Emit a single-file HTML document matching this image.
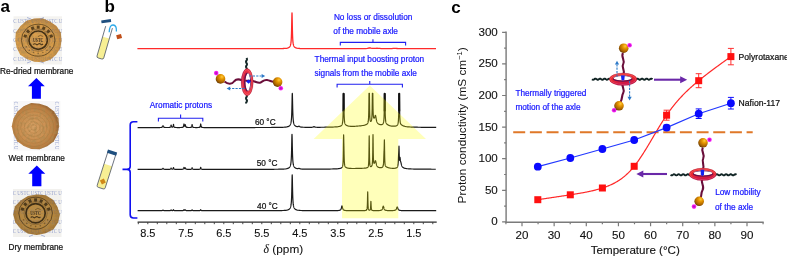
<!DOCTYPE html><html><head><meta charset="utf-8"><style>html,body{margin:0;padding:0;background:#fff;overflow:hidden}svg{display:block;will-change:transform}</style></head><body>
<svg width="787" height="257" viewBox="0 0 787 257">
<defs>
<radialGradient id="disc1" cx="45%" cy="55%" r="55%">
<stop offset="0" stop-color="#d89030"/><stop offset="0.8" stop-color="#ce8828"/><stop offset="1" stop-color="#b27020"/></radialGradient>
<radialGradient id="disc2" cx="45%" cy="52%" r="52%">
<stop offset="0" stop-color="#d6a064"/><stop offset="0.6" stop-color="#c98e50"/><stop offset="0.9" stop-color="#b87c40"/><stop offset="1" stop-color="#9c6836"/></radialGradient>
<radialGradient id="disc3" cx="50%" cy="50%" r="52%">
<stop offset="0" stop-color="#ba8430"/><stop offset="0.7" stop-color="#ac7624"/><stop offset="1" stop-color="#8e5c18"/></radialGradient>
<radialGradient id="gold" cx="62%" cy="32%" r="75%" fx="65%" fy="28%">
<stop offset="0" stop-color="#ffcc40"/><stop offset="0.3" stop-color="#e89800"/><stop offset="0.72" stop-color="#a86200"/><stop offset="1" stop-color="#5a3200"/></radialGradient>
<radialGradient id="mag" cx="50%" cy="50%" r="50%">
<stop offset="0" stop-color="#9a20a0"/><stop offset="0.5" stop-color="#e010e0"/><stop offset="1" stop-color="#ff30ff"/></radialGradient>
<linearGradient id="ringv" x1="0" y1="0" x2="1" y2="0.25">
<stop offset="0" stop-color="#b8104a"/><stop offset="0.35" stop-color="#e62a40"/><stop offset="0.7" stop-color="#f23c48"/><stop offset="1" stop-color="#e02a3a"/></linearGradient>
<linearGradient id="ringh" x1="0" y1="0" x2="0.2" y2="1">
<stop offset="0" stop-color="#f23232"/><stop offset="0.55" stop-color="#ec2a30"/><stop offset="1" stop-color="#c8104c"/></linearGradient>
<filter id="tex" x="0" y="0" width="100%" height="100%">
<feTurbulence type="fractalNoise" baseFrequency="0.35" numOctaves="2" seed="4" result="n"/>
<feColorMatrix in="n" type="matrix" values="0 0 0 0 0.40  0 0 0 0 0.25  0 0 0 0 0.08  3.2 0 0 0 -1.25" result="c"/>
<feComposite in="c" in2="SourceGraphic" operator="in"/>
</filter>
</defs>
<text x="0.50" y="12.20" font-family='"Liberation Sans", sans-serif' font-size="17.00" fill="#000" text-anchor="start" font-weight="bold" stroke="#000" stroke-width="0.00" >a</text>
<rect x="13.5" y="16.3" width="48.5" height="48.2" fill="#f4f3f0"/>
<text x="13.20" y="23.40" font-family='"Liberation Serif", serif' font-size="6.80" fill="#7d8cc4" opacity="0.80" textLength="49.1" lengthAdjust="spacingAndGlyphs">C USTC USTC USTC U</text>
<text x="13.20" y="32.60" font-family='"Liberation Serif", serif' font-size="6.80" fill="#7d8cc4" opacity="0.80" textLength="49.1" lengthAdjust="spacingAndGlyphs">C USTC USTC USTC U</text>
<text x="13.20" y="42.00" font-family='"Liberation Serif", serif' font-size="6.80" fill="#7d8cc4" opacity="0.80" textLength="49.1" lengthAdjust="spacingAndGlyphs">C USTC USTC USTC U</text>
<text x="13.20" y="51.30" font-family='"Liberation Serif", serif' font-size="6.80" fill="#7d8cc4" opacity="0.80" textLength="49.1" lengthAdjust="spacingAndGlyphs">C USTC USTC USTC U</text>
<text x="13.20" y="60.60" font-family='"Liberation Serif", serif' font-size="6.80" fill="#7d8cc4" opacity="0.80" textLength="49.1" lengthAdjust="spacingAndGlyphs">C USTC USTC USTC U</text>
<path d="M61.49,40.30 L60.44,47.91 L56.21,54.48 L50.16,59.63 L42.49,62.30 L34.42,61.69 L26.98,59.06 L20.17,54.81 L16.68,47.80 L15.31,40.30 L15.87,32.52 L20.50,26.05 L26.50,20.75 L34.34,18.46 L42.49,18.29 L49.90,21.41 L56.45,25.93 L60.79,32.57 Z" fill="url(#disc1)" opacity="0.84"/>
<path d="M61.49,40.30 L60.44,47.91 L56.21,54.48 L50.16,59.63 L42.49,62.30 L34.42,61.69 L26.98,59.06 L20.17,54.81 L16.68,47.80 L15.31,40.30 L15.87,32.52 L20.50,26.05 L26.50,20.75 L34.34,18.46 L42.49,18.29 L49.90,21.41 L56.45,25.93 L60.79,32.57 Z" fill="#000" filter="url(#tex)" opacity="0.55"/>
<clipPath id="cd1"><path d="M61.49,40.30 L60.44,47.91 L56.21,54.48 L50.16,59.63 L42.49,62.30 L34.42,61.69 L26.98,59.06 L20.17,54.81 L16.68,47.80 L15.31,40.30 L15.87,32.52 L20.50,26.05 L26.50,20.75 L34.34,18.46 L42.49,18.29 L49.90,21.41 L56.45,25.93 L60.79,32.57 Z"/></clipPath><g clip-path="url(#cd1)" opacity="0.35">
<text x="13.20" y="23.40" font-family='"Liberation Serif", serif' font-size="6.80" fill="#6a70a0" opacity="0.80" textLength="49.1" lengthAdjust="spacingAndGlyphs">C USTC USTC USTC U</text>
<text x="13.20" y="32.60" font-family='"Liberation Serif", serif' font-size="6.80" fill="#6a70a0" opacity="0.80" textLength="49.1" lengthAdjust="spacingAndGlyphs">C USTC USTC USTC U</text>
<text x="13.20" y="42.00" font-family='"Liberation Serif", serif' font-size="6.80" fill="#6a70a0" opacity="0.80" textLength="49.1" lengthAdjust="spacingAndGlyphs">C USTC USTC USTC U</text>
<text x="13.20" y="51.30" font-family='"Liberation Serif", serif' font-size="6.80" fill="#6a70a0" opacity="0.80" textLength="49.1" lengthAdjust="spacingAndGlyphs">C USTC USTC USTC U</text>
<text x="13.20" y="60.60" font-family='"Liberation Serif", serif' font-size="6.80" fill="#6a70a0" opacity="0.80" textLength="49.1" lengthAdjust="spacingAndGlyphs">C USTC USTC USTC U</text>
</g>
<g opacity="1.00">
<ellipse cx="38.20" cy="40.20" rx="16.80" ry="16.00" fill="none" stroke="#2e200c" stroke-width="0.9" opacity="0.65"/>
<rect x="23.79" y="34.60" width="2.9" height="3.1" fill="#2e200c" opacity="0.72" transform="rotate(288.0 25.24 36.15)"/>
<rect x="26.63" y="29.88" width="2.9" height="3.1" fill="#2e200c" opacity="0.72" transform="rotate(312.0 28.08 31.43)"/>
<rect x="31.21" y="26.68" width="2.9" height="3.1" fill="#2e200c" opacity="0.72" transform="rotate(336.0 32.66 28.23)"/>
<rect x="36.75" y="25.55" width="2.9" height="3.1" fill="#2e200c" opacity="0.72" transform="rotate(360.0 38.20 27.10)"/>
<rect x="42.29" y="26.68" width="2.9" height="3.1" fill="#2e200c" opacity="0.72" transform="rotate(384.0 43.74 28.23)"/>
<rect x="46.87" y="29.88" width="2.9" height="3.1" fill="#2e200c" opacity="0.72" transform="rotate(408.0 48.32 31.43)"/>
<rect x="49.71" y="34.60" width="2.9" height="3.1" fill="#2e200c" opacity="0.72" transform="rotate(432.0 51.16 36.15)"/>
<circle cx="50.00" cy="46.75" r="0.8" fill="#2e200c" opacity="0.4"/>
<circle cx="46.96" cy="50.24" r="0.8" fill="#2e200c" opacity="0.4"/>
<circle cx="42.86" cy="52.51" r="0.8" fill="#2e200c" opacity="0.4"/>
<circle cx="38.20" cy="53.30" r="0.8" fill="#2e200c" opacity="0.4"/>
<circle cx="33.54" cy="52.51" r="0.8" fill="#2e200c" opacity="0.4"/>
<circle cx="29.44" cy="50.24" r="0.8" fill="#2e200c" opacity="0.4"/>
<circle cx="26.40" cy="46.75" r="0.8" fill="#2e200c" opacity="0.4"/>
<circle cx="38.20" cy="40.20" r="9.20" fill="none" stroke="#2e200c" stroke-width="1.7" opacity="0.85"/>
<circle cx="38.20" cy="40.20" r="11.20" fill="none" stroke="#2e200c" stroke-width="0.6" opacity="0.45"/>
<text x="38.20" y="41.80" font-family='"Liberation Serif", serif' font-weight="bold" font-size="5.2" fill="#2e200c" opacity="0.8" text-anchor="middle" textLength="10.5" lengthAdjust="spacingAndGlyphs">USTC</text>
<path d="M33.40,44.60 q1.2,-1.6 2.4,-0.4 q1.2,1.2 2.4,0 q1.2,-1.2 2.4,0 q1.2,1.2 2.4,-0.4" fill="none" stroke="#2e200c" stroke-width="1.1" opacity="0.8"/>
<path d="M37.70,36.80 q2.5,-2.6 5.5,-0.3" fill="none" stroke="#2e200c" stroke-width="0.7" opacity="0.6"/>
</g>
<path d="M27,17.5 l4,1.5 M44,17.5 l-4,1.5 M27,63 l4,-1.5 M44,63 l-4,-1.5" stroke="#8090c8" stroke-width="0.8" opacity="0.8"/>
<rect x="13.2" y="101" width="47.2" height="49.5" fill="#f7f7f8"/>
<text transform="translate(13.80,101.5) rotate(90)" font-family='"Liberation Serif", serif' font-size="6.4" fill="#7d8cc4" opacity="0.8" textLength="48" lengthAdjust="spacingAndGlyphs">C USTC USTC USTC U</text>
<text transform="translate(55.30,101.5) rotate(90)" font-family='"Liberation Serif", serif' font-size="6.4" fill="#7d8cc4" opacity="0.8" textLength="48" lengthAdjust="spacingAndGlyphs">C USTC USTC USTC U</text>
<path d="M59.13,126.30 L57.55,134.16 L53.84,141.37 L47.20,146.13 L39.64,149.28 L31.39,149.12 L23.81,146.12 L17.26,141.28 L13.55,134.12 L11.76,126.30 L13.52,118.47 L17.57,111.57 L23.64,106.18 L31.31,103.05 L39.57,103.70 L47.27,106.34 L53.82,111.25 L58.27,118.19 Z" fill="url(#disc2)"/>
<path d="M59.13,126.30 L57.55,134.16 L53.84,141.37 L47.20,146.13 L39.64,149.28 L31.39,149.12 L23.81,146.12 L17.26,141.28 L13.55,134.12 L11.76,126.30 L13.52,118.47 L17.57,111.57 L23.64,106.18 L31.31,103.05 L39.57,103.70 L47.27,106.34 L53.82,111.25 L58.27,118.19 Z" fill="#000" filter="url(#tex)" opacity="0.55"/>
<ellipse cx="33.8" cy="127.5" rx="3.0" ry="2.8" fill="none" stroke="#9c6a30" stroke-width="0.9" opacity="0.3"/>
<ellipse cx="33.8" cy="127.5" rx="6.0" ry="5.7" fill="none" stroke="#9c6a30" stroke-width="0.9" opacity="0.3"/>
<ellipse cx="33.8" cy="127.5" rx="9.5" ry="9.0" fill="none" stroke="#9c6a30" stroke-width="0.9" opacity="0.3"/>
<ellipse cx="33.8" cy="127.5" rx="13.0" ry="12.3" fill="none" stroke="#9c6a30" stroke-width="0.9" opacity="0.3"/>
<ellipse cx="33.8" cy="127.5" rx="16.5" ry="15.7" fill="none" stroke="#9c6a30" stroke-width="0.9" opacity="0.3"/>
<ellipse cx="33.8" cy="127.5" rx="20.0" ry="19.0" fill="none" stroke="#9c6a30" stroke-width="0.9" opacity="0.3"/>
<rect x="13" y="189" width="48.5" height="48" fill="#f2f1ee"/>
<text x="12.70" y="195.40" font-family='"Liberation Serif", serif' font-size="6.80" fill="#7d8cc4" opacity="0.80" textLength="49.1" lengthAdjust="spacingAndGlyphs">C USTC USTC USTC U</text>
<text x="12.70" y="204.40" font-family='"Liberation Serif", serif' font-size="6.80" fill="#7d8cc4" opacity="0.80" textLength="49.1" lengthAdjust="spacingAndGlyphs">C USTC USTC USTC U</text>
<text x="12.70" y="213.90" font-family='"Liberation Serif", serif' font-size="6.80" fill="#7d8cc4" opacity="0.80" textLength="49.1" lengthAdjust="spacingAndGlyphs">C USTC USTC USTC U</text>
<text x="12.70" y="223.50" font-family='"Liberation Serif", serif' font-size="6.80" fill="#7d8cc4" opacity="0.80" textLength="49.1" lengthAdjust="spacingAndGlyphs">C USTC USTC USTC U</text>
<text x="12.70" y="233.20" font-family='"Liberation Serif", serif' font-size="6.80" fill="#7d8cc4" opacity="0.80" textLength="49.1" lengthAdjust="spacingAndGlyphs">C USTC USTC USTC U</text>
<path d="M59.83,214.50 L58.21,222.33 L53.52,229.29 L45.56,233.31 L36.70,234.91 L27.78,233.45 L20.61,228.65 L15.25,222.31 L13.32,214.50 L14.89,206.56 L20.69,200.43 L27.93,195.88 L36.70,194.60 L45.74,195.30 L53.30,199.91 L57.54,206.91 Z" fill="url(#disc3)" opacity="0.88"/>
<path d="M59.83,214.50 L58.21,222.33 L53.52,229.29 L45.56,233.31 L36.70,234.91 L27.78,233.45 L20.61,228.65 L15.25,222.31 L13.32,214.50 L14.89,206.56 L20.69,200.43 L27.93,195.88 L36.70,194.60 L45.74,195.30 L53.30,199.91 L57.54,206.91 Z" fill="#000" filter="url(#tex)" opacity="0.55"/>
<clipPath id="cd3"><path d="M59.83,214.50 L58.21,222.33 L53.52,229.29 L45.56,233.31 L36.70,234.91 L27.78,233.45 L20.61,228.65 L15.25,222.31 L13.32,214.50 L14.89,206.56 L20.69,200.43 L27.93,195.88 L36.70,194.60 L45.74,195.30 L53.30,199.91 L57.54,206.91 Z"/></clipPath><g clip-path="url(#cd3)" opacity="0.35">
<text x="12.70" y="195.40" font-family='"Liberation Serif", serif' font-size="6.80" fill="#6a70a0" opacity="0.80" textLength="49.1" lengthAdjust="spacingAndGlyphs">C USTC USTC USTC U</text>
<text x="12.70" y="204.40" font-family='"Liberation Serif", serif' font-size="6.80" fill="#6a70a0" opacity="0.80" textLength="49.1" lengthAdjust="spacingAndGlyphs">C USTC USTC USTC U</text>
<text x="12.70" y="213.90" font-family='"Liberation Serif", serif' font-size="6.80" fill="#6a70a0" opacity="0.80" textLength="49.1" lengthAdjust="spacingAndGlyphs">C USTC USTC USTC U</text>
<text x="12.70" y="223.50" font-family='"Liberation Serif", serif' font-size="6.80" fill="#6a70a0" opacity="0.80" textLength="49.1" lengthAdjust="spacingAndGlyphs">C USTC USTC USTC U</text>
<text x="12.70" y="233.20" font-family='"Liberation Serif", serif' font-size="6.80" fill="#6a70a0" opacity="0.80" textLength="49.1" lengthAdjust="spacingAndGlyphs">C USTC USTC USTC U</text>
</g>
<g opacity="1.00">
<ellipse cx="35.60" cy="213.20" rx="16.80" ry="16.00" fill="none" stroke="#2a1e0c" stroke-width="0.9" opacity="0.65"/>
<rect x="20.99" y="207.54" width="2.9" height="3.1" fill="#2a1e0c" opacity="0.72" transform="rotate(288.0 22.44 209.09)"/>
<rect x="23.87" y="202.75" width="2.9" height="3.1" fill="#2a1e0c" opacity="0.72" transform="rotate(312.0 25.32 204.30)"/>
<rect x="28.52" y="199.50" width="2.9" height="3.1" fill="#2a1e0c" opacity="0.72" transform="rotate(336.0 29.97 201.05)"/>
<rect x="34.15" y="198.35" width="2.9" height="3.1" fill="#2a1e0c" opacity="0.72" transform="rotate(360.0 35.60 199.90)"/>
<rect x="39.78" y="199.50" width="2.9" height="3.1" fill="#2a1e0c" opacity="0.72" transform="rotate(384.0 41.23 201.05)"/>
<rect x="44.43" y="202.75" width="2.9" height="3.1" fill="#2a1e0c" opacity="0.72" transform="rotate(408.0 45.88 204.30)"/>
<rect x="47.31" y="207.54" width="2.9" height="3.1" fill="#2a1e0c" opacity="0.72" transform="rotate(432.0 48.76 209.09)"/>
<circle cx="47.58" cy="219.85" r="0.8" fill="#2a1e0c" opacity="0.4"/>
<circle cx="44.49" cy="223.39" r="0.8" fill="#2a1e0c" opacity="0.4"/>
<circle cx="40.33" cy="225.70" r="0.8" fill="#2a1e0c" opacity="0.4"/>
<circle cx="35.60" cy="226.50" r="0.8" fill="#2a1e0c" opacity="0.4"/>
<circle cx="30.87" cy="225.70" r="0.8" fill="#2a1e0c" opacity="0.4"/>
<circle cx="26.71" cy="223.39" r="0.8" fill="#2a1e0c" opacity="0.4"/>
<circle cx="23.62" cy="219.85" r="0.8" fill="#2a1e0c" opacity="0.4"/>
<circle cx="35.60" cy="213.20" r="9.60" fill="none" stroke="#2a1e0c" stroke-width="1.7" opacity="0.85"/>
<circle cx="35.60" cy="213.20" r="11.60" fill="none" stroke="#2a1e0c" stroke-width="0.6" opacity="0.45"/>
<text x="35.60" y="214.80" font-family='"Liberation Serif", serif' font-weight="bold" font-size="5.2" fill="#2a1e0c" opacity="0.8" text-anchor="middle" textLength="10.5" lengthAdjust="spacingAndGlyphs">USTC</text>
<path d="M30.80,217.60 q1.2,-1.6 2.4,-0.4 q1.2,1.2 2.4,0 q1.2,-1.2 2.4,0 q1.2,1.2 2.4,-0.4" fill="none" stroke="#2a1e0c" stroke-width="1.1" opacity="0.8"/>
<path d="M35.10,209.80 q2.5,-2.6 5.5,-0.3" fill="none" stroke="#2a1e0c" stroke-width="0.7" opacity="0.6"/>
</g>
<path d="M29,236.5 l4,-1.5 M45,236.5 l-4,-1.5" stroke="#8090c8" stroke-width="0.8" opacity="0.8"/>
<text x="0.00" y="74.20" font-family='"Liberation Sans", sans-serif' font-size="8.25" fill="#111" text-anchor="start" font-weight="normal" stroke="#111" stroke-width="0.22" >Re-dried membrane</text>
<text x="8.60" y="160.70" font-family='"Liberation Sans", sans-serif' font-size="8.25" fill="#111" text-anchor="start" font-weight="normal" stroke="#111" stroke-width="0.22" >Wet membrane</text>
<text x="8.60" y="249.90" font-family='"Liberation Sans", sans-serif' font-size="8.25" fill="#111" text-anchor="start" font-weight="normal" stroke="#111" stroke-width="0.22" >Dry membrane</text>
<path d="M36.40,78.10 L44.80,86.30 L40.90,86.30 L40.90,98.80 L31.90,98.80 L31.90,86.30 L28.00,86.30 Z" fill="#0000ff"/>
<path d="M36.80,165.60 L45.30,173.70 L41.40,173.70 L41.40,186.20 L32.20,186.20 L32.20,173.70 L28.30,173.70 Z" fill="#0000ff"/>
<text x="104.60" y="12.10" font-family='"Liberation Sans", sans-serif' font-size="17.00" fill="#000" text-anchor="start" font-weight="bold" stroke="#000" stroke-width="0.00" >b</text>
<path d="M137.4,48.70 L138.4,48.70 L139.4,48.70 L140.4,48.70 L141.4,48.70 L142.4,48.70 L143.4,48.70 L144.4,48.70 L145.4,48.70 L146.4,48.70 L147.4,48.70 L148.4,48.70 L149.4,48.70 L150.4,48.70 L151.4,48.70 L152.4,48.70 L153.4,48.70 L154.4,48.70 L155.4,48.70 L156.4,48.70 L157.4,48.70 L158.4,48.70 L159.4,48.70 L160.4,48.70 L161.4,48.70 L162.4,48.70 L163.4,48.70 L164.4,48.70 L165.4,48.70 L166.4,48.70 L167.4,48.70 L168.4,48.70 L169.4,48.70 L170.4,48.70 L171.4,48.70 L172.4,48.70 L173.4,48.70 L174.4,48.70 L175.4,48.70 L176.4,48.70 L177.4,48.70 L178.4,48.70 L179.4,48.70 L180.4,48.70 L181.4,48.70 L182.4,48.70 L183.4,48.70 L184.4,48.70 L185.4,48.70 L186.4,48.70 L187.4,48.70 L188.4,48.70 L189.4,48.70 L190.4,48.70 L191.4,48.70 L192.4,48.70 L193.4,48.70 L194.4,48.70 L195.4,48.70 L196.4,48.70 L197.4,48.70 L198.4,48.70 L199.4,48.70 L200.4,48.70 L201.4,48.70 L202.4,48.70 L203.4,48.70 L204.4,48.70 L205.4,48.70 L206.4,48.70 L207.4,48.70 L208.4,48.70 L209.4,48.70 L210.4,48.70 L211.4,48.70 L212.4,48.70 L213.4,48.70 L214.4,48.70 L215.4,48.70 L216.4,48.70 L217.4,48.70 L218.4,48.70 L219.4,48.70 L220.4,48.70 L221.4,48.70 L222.4,48.70 L223.4,48.70 L224.4,48.70 L225.4,48.70 L226.4,48.70 L227.4,48.70 L228.4,48.70 L229.4,48.70 L230.4,48.70 L231.4,48.70 L232.4,48.70 L233.4,48.70 L234.4,48.70 L235.4,48.70 L236.4,48.70 L237.4,48.69 L238.4,48.69 L239.4,48.69 L240.4,48.69 L241.4,48.69 L242.4,48.69 L243.4,48.69 L244.4,48.69 L245.4,48.69 L246.4,48.69 L247.4,48.69 L248.4,48.69 L249.4,48.69 L250.4,48.69 L251.4,48.69 L252.4,48.69 L253.4,48.69 L254.4,48.69 L255.4,48.69 L256.4,48.69 L257.4,48.69 L258.4,48.69 L259.4,48.69 L260.4,48.69 L261.4,48.68 L262.4,48.68 L263.4,48.68 L264.4,48.68 L265.4,48.68 L266.4,48.68 L267.4,48.68 L268.4,48.67 L269.4,48.67 L270.4,48.67 L271.4,48.67 L272.4,48.66 L273.4,48.66 L274.4,48.65 L275.4,48.65 L276.4,48.64 L277.4,48.63 L278.4,48.62 L279.4,48.61 L280.4,48.60 L281.4,48.58 L282.4,48.55 L283.4,48.51 L284.4,48.46 L285.4,48.39 L286.4,48.28 L287.4,48.10 L287.5,48.07 L287.6,48.05 L287.7,48.02 L287.8,47.99 L287.9,47.96 L288.0,47.93 L288.1,47.89 L288.2,47.85 L288.3,47.81 L288.4,47.77 L288.5,47.72 L288.6,47.67 L288.7,47.62 L288.8,47.56 L288.9,47.50 L289.0,47.44 L289.1,47.36 L289.2,47.28 L289.3,47.20 L289.4,47.10 L289.5,47.00 L289.6,46.89 L289.7,46.77 L289.8,46.63 L289.9,46.48 L290.0,46.31 L290.1,46.12 L290.2,45.90 L290.3,45.66 L290.4,45.38 L290.5,45.06 L290.6,44.69 L290.7,44.25 L290.8,43.72 L290.9,43.09 L291.0,42.30 L291.1,41.33 L291.2,40.08 L291.3,38.47 L291.4,36.34 L291.5,33.52 L291.6,29.78 L291.7,25.04 L291.8,19.64 L291.9,14.88 L292.0,12.90 L292.1,14.88 L292.2,19.64 L292.3,25.04 L292.4,29.78 L292.5,33.52 L292.6,36.34 L292.7,38.47 L292.8,40.08 L292.9,41.33 L293.0,42.30 L293.1,43.09 L293.2,43.72 L293.3,44.25 L293.4,44.69 L293.5,45.06 L293.6,45.38 L293.7,45.66 L293.8,45.90 L293.9,46.12 L294.0,46.31 L294.1,46.48 L294.2,46.63 L294.3,46.77 L294.4,46.89 L294.5,47.00 L294.6,47.10 L294.7,47.20 L294.8,47.28 L294.9,47.36 L295.0,47.44 L295.1,47.50 L295.2,47.56 L295.3,47.62 L295.4,47.67 L295.5,47.72 L295.6,47.77 L295.7,47.81 L295.8,47.85 L295.9,47.89 L296.0,47.93 L296.1,47.96 L296.2,47.99 L296.3,48.02 L296.4,48.05 L296.5,48.07 L296.6,48.10 L296.7,48.12 L296.8,48.14 L296.9,48.16 L297.0,48.18 L298.0,48.33 L299.0,48.42 L300.0,48.49 L301.0,48.53 L302.0,48.56 L303.0,48.58 L304.0,48.60 L305.0,48.62 L306.0,48.63 L307.0,48.64 L308.0,48.64 L309.0,48.65 L310.0,48.65 L311.0,48.66 L312.0,48.66 L313.0,48.67 L314.0,48.67 L315.0,48.67 L316.0,48.67 L317.0,48.68 L318.0,48.68 L319.0,48.68 L320.0,48.68 L321.0,48.68 L322.0,48.68 L323.0,48.68 L324.0,48.68 L325.0,48.68 L326.0,48.68 L327.0,48.69 L328.0,48.69 L329.0,48.69 L330.0,48.69 L331.0,48.69 L332.0,48.69 L333.0,48.69 L334.0,48.69 L335.0,48.69 L336.0,48.69 L337.0,48.69 L338.0,48.69 L339.0,48.69 L340.0,48.69 L341.0,48.69 L342.0,48.69 L343.0,48.69 L344.0,48.69 L345.0,48.69 L346.0,48.69 L347.0,48.69 L348.0,48.69 L349.0,48.69 L350.0,48.68 L351.0,48.68 L352.0,48.68 L353.0,48.68 L354.0,48.68 L355.0,48.68 L356.0,48.68 L357.0,48.67 L358.0,48.67 L359.0,48.67 L360.0,48.66 L361.0,48.66 L362.0,48.65 L363.0,48.64 L364.0,48.62 L365.0,48.60 L366.0,48.55 L367.0,48.47 L368.0,48.30 L369.0,47.99 L370.0,47.86 L371.0,48.16 L372.0,48.35 L373.0,48.41 L374.0,48.41 L375.0,48.36 L376.0,48.29 L377.0,48.26 L378.0,48.30 L379.0,48.39 L380.0,48.47 L381.0,48.53 L382.0,48.57 L383.0,48.59 L384.0,48.61 L385.0,48.62 L386.0,48.62 L387.0,48.62 L388.0,48.62 L389.0,48.61 L390.0,48.59 L391.0,48.57 L392.0,48.53 L393.0,48.47 L394.0,48.41 L395.0,48.39 L396.0,48.42 L397.0,48.48 L398.0,48.54 L399.0,48.58 L400.0,48.61 L401.0,48.63 L402.0,48.64 L403.0,48.65 L404.0,48.66 L405.0,48.67 L406.0,48.67 L407.0,48.68 L408.0,48.68 L409.0,48.68 L410.0,48.68 L411.0,48.68 L412.0,48.69 L413.0,48.69 L414.0,48.69 L415.0,48.69 L416.0,48.69 L417.0,48.69 L418.0,48.69 L419.0,48.69 L420.0,48.69 L421.0,48.69 L422.0,48.69 L423.0,48.69 L424.0,48.69 L425.0,48.69 L426.0,48.69 L427.0,48.69 L428.0,48.69 L429.0,48.70 L430.0,48.70 L431.0,48.70 L432.0,48.70 L433.0,48.70 L434.0,48.70 L435.0,48.70 L436.0,48.70" fill="none" stroke="#ff2a2a" stroke-width="1.3" stroke-linejoin="round"/>
<path d="M137.6,127.58 L138.6,127.58 L139.6,127.58 L140.6,127.58 L141.6,127.58 L142.6,127.58 L143.6,127.58 L144.6,127.58 L145.6,127.58 L146.6,127.58 L147.6,127.58 L148.6,127.58 L149.6,127.58 L150.6,127.58 L151.6,127.58 L152.6,127.58 L153.6,127.57 L154.6,127.57 L155.6,127.57 L156.6,127.57 L157.6,127.56 L158.6,127.55 L158.7,127.55 L158.8,127.55 L158.9,127.55 L159.0,127.55 L159.1,127.55 L159.2,127.54 L159.3,127.54 L159.4,127.54 L159.5,127.54 L159.6,127.54 L159.7,127.53 L159.8,127.53 L159.9,127.53 L160.0,127.53 L160.1,127.52 L160.2,127.52 L160.3,127.51 L160.4,127.51 L160.5,127.51 L160.6,127.50 L160.7,127.49 L160.8,127.49 L160.9,127.48 L161.0,127.47 L161.1,127.46 L161.2,127.44 L161.3,127.43 L161.4,127.41 L161.5,127.39 L161.6,127.37 L161.7,127.34 L161.8,127.31 L161.9,127.26 L162.0,127.21 L162.1,127.15 L162.2,127.07 L162.3,126.96 L162.4,126.83 L162.5,126.67 L162.6,126.47 L162.7,126.25 L162.8,126.02 L162.9,125.84 L163.0,125.77 L163.1,125.84 L163.2,126.02 L163.3,126.25 L163.4,126.47 L163.5,126.67 L163.6,126.83 L163.7,126.96 L163.8,127.06 L163.9,127.14 L164.0,127.21 L164.1,127.26 L164.2,127.30 L164.3,127.34 L164.4,127.36 L164.5,127.39 L164.6,127.41 L164.7,127.42 L164.8,127.44 L164.9,127.45 L165.0,127.46 L165.1,127.47 L165.2,127.48 L165.3,127.48 L165.4,127.49 L165.5,127.49 L165.6,127.50 L165.7,127.50 L165.8,127.51 L165.9,127.51 L166.0,127.51 L166.1,127.51 L166.2,127.52 L166.3,127.52 L166.4,127.52 L166.5,127.52 L166.6,127.52 L166.7,127.52 L166.8,127.52 L166.9,127.52 L167.0,127.52 L167.1,127.52 L167.2,127.52 L167.3,127.52 L167.4,127.52 L167.5,127.52 L167.6,127.52 L167.7,127.52 L167.8,127.52 L167.9,127.52 L168.0,127.52 L168.1,127.52 L168.2,127.51 L168.3,127.51 L168.4,127.51 L168.5,127.51 L168.6,127.50 L168.7,127.50 L168.8,127.49 L168.9,127.49 L169.0,127.48 L169.1,127.48 L169.2,127.47 L169.3,127.46 L169.4,127.45 L169.5,127.44 L169.6,127.42 L169.7,127.40 L169.8,127.38 L169.9,127.35 L170.0,127.32 L170.1,127.28 L170.2,127.22 L170.3,127.15 L170.4,127.06 L170.5,126.92 L170.6,126.74 L170.7,126.49 L170.8,126.14 L170.9,125.71 L171.0,125.30 L171.1,125.12 L171.2,125.29 L171.3,125.70 L171.4,126.12 L171.5,126.46 L171.6,126.70 L171.7,126.87 L171.8,126.99 L171.9,127.07 L172.0,127.13 L172.1,127.16 L172.2,127.18 L172.3,127.19 L172.4,127.18 L172.5,127.16 L172.6,127.12 L172.7,127.06 L172.8,126.97 L172.9,126.84 L173.0,126.64 L173.1,126.34 L173.2,125.90 L173.3,125.29 L173.4,124.63 L173.5,124.32 L173.6,124.64 L173.7,125.31 L173.8,125.93 L173.9,126.38 L174.0,126.68 L174.1,126.89 L174.2,127.04 L174.3,127.14 L174.4,127.22 L174.5,127.28 L174.6,127.32 L174.7,127.35 L174.8,127.38 L174.9,127.40 L175.0,127.42 L175.1,127.44 L175.2,127.45 L175.3,127.46 L175.4,127.47 L175.5,127.48 L175.6,127.49 L175.7,127.49 L175.8,127.50 L175.9,127.50 L176.0,127.50 L176.1,127.51 L176.2,127.51 L176.3,127.51 L176.4,127.52 L176.5,127.52 L176.6,127.52 L176.7,127.52 L176.8,127.53 L176.9,127.53 L177.0,127.53 L177.1,127.53 L177.2,127.53 L177.3,127.53 L177.4,127.53 L177.5,127.53 L177.6,127.53 L177.7,127.53 L177.8,127.53 L177.9,127.53 L178.0,127.53 L178.1,127.53 L178.2,127.54 L178.3,127.54 L178.4,127.54 L178.5,127.53 L178.6,127.53 L179.6,127.53 L179.7,127.53 L179.8,127.53 L179.9,127.53 L180.0,127.52 L180.1,127.52 L180.2,127.52 L180.3,127.52 L180.4,127.52 L180.5,127.51 L180.6,127.51 L180.7,127.51 L180.8,127.51 L180.9,127.50 L181.0,127.50 L181.1,127.50 L181.2,127.49 L181.3,127.49 L181.4,127.48 L181.5,127.48 L181.6,127.47 L181.7,127.46 L181.8,127.45 L181.9,127.44 L182.0,127.43 L182.1,127.42 L182.2,127.41 L182.3,127.39 L182.4,127.37 L182.5,127.35 L182.6,127.32 L182.7,127.29 L182.8,127.25 L182.9,127.20 L183.0,127.13 L183.1,127.05 L183.2,126.95 L183.3,126.81 L183.4,126.62 L183.5,126.35 L183.6,125.98 L183.7,125.49 L183.8,124.87 L183.9,124.27 L184.0,123.99 L184.1,124.22 L184.2,124.76 L184.3,125.32 L184.4,125.75 L184.5,126.03 L184.6,126.18 L184.7,126.22 L184.8,126.16 L184.9,125.99 L185.0,125.69 L185.1,125.29 L185.2,124.89 L185.3,124.73 L185.4,124.96 L185.5,125.43 L185.6,125.91 L185.7,126.30 L185.8,126.58 L185.9,126.79 L186.0,126.94 L186.1,127.05 L186.2,127.14 L186.3,127.20 L186.4,127.25 L186.5,127.29 L186.6,127.32 L186.7,127.35 L186.8,127.37 L186.9,127.39 L187.0,127.41 L187.1,127.42 L187.2,127.43 L187.3,127.44 L187.4,127.45 L187.5,127.46 L187.6,127.46 L187.7,127.47 L187.8,127.48 L187.9,127.48 L188.0,127.48 L188.1,127.49 L188.2,127.49 L188.3,127.49 L188.4,127.49 L188.5,127.50 L188.6,127.50 L188.7,127.50 L188.8,127.50 L188.9,127.50 L189.0,127.50 L189.1,127.50 L189.2,127.50 L189.3,127.50 L189.4,127.50 L189.5,127.50 L189.6,127.50 L189.7,127.49 L189.8,127.49 L189.9,127.49 L190.0,127.48 L190.1,127.48 L190.2,127.47 L190.3,127.46 L190.4,127.45 L190.5,127.44 L190.6,127.43 L190.7,127.42 L190.8,127.40 L190.9,127.37 L191.0,127.34 L191.1,127.30 L191.2,127.25 L191.3,127.18 L191.4,127.09 L191.5,126.95 L191.6,126.76 L191.7,126.47 L191.8,126.05 L191.9,125.48 L192.0,124.85 L192.1,124.55 L192.2,124.85 L192.3,125.48 L192.4,126.05 L192.5,126.47 L192.6,126.76 L192.7,126.95 L192.8,127.09 L192.9,127.18 L193.0,127.25 L193.1,127.31 L193.2,127.35 L193.3,127.38 L193.4,127.40 L193.5,127.42 L193.6,127.44 L193.7,127.45 L193.8,127.46 L193.9,127.47 L194.0,127.48 L194.1,127.49 L194.2,127.49 L194.3,127.50 L194.4,127.50 L194.5,127.51 L194.6,127.51 L194.7,127.51 L194.8,127.52 L194.9,127.52 L195.0,127.52 L195.1,127.52 L195.2,127.52 L195.3,127.53 L195.4,127.53 L195.5,127.53 L195.6,127.53 L195.7,127.53 L195.8,127.53 L195.9,127.53 L196.0,127.53 L196.1,127.53 L196.2,127.53 L196.3,127.53 L196.4,127.53 L196.5,127.53 L196.6,127.53 L196.7,127.53 L196.8,127.53 L196.9,127.53 L197.0,127.53 L197.1,127.53 L197.2,127.53 L197.3,127.53 L197.4,127.53 L197.5,127.52 L197.6,127.52 L197.7,127.52 L197.8,127.52 L197.9,127.52 L198.0,127.51 L198.1,127.51 L198.2,127.51 L198.3,127.50 L198.4,127.50 L198.5,127.49 L198.6,127.49 L198.7,127.48 L198.8,127.47 L198.9,127.46 L199.0,127.45 L199.1,127.44 L199.2,127.42 L199.3,127.40 L199.4,127.38 L199.5,127.35 L199.6,127.31 L199.7,127.26 L199.8,127.20 L199.9,127.12 L200.0,127.00 L200.1,126.84 L200.2,126.61 L200.3,126.27 L200.4,125.76 L200.5,125.07 L200.6,124.32 L200.7,123.96 L200.8,124.32 L200.9,125.07 L201.0,125.76 L201.1,126.27 L201.2,126.61 L201.3,126.84 L201.4,127.00 L201.5,127.12 L201.6,127.20 L201.7,127.27 L201.8,127.31 L201.9,127.35 L202.0,127.38 L202.1,127.40 L202.2,127.42 L202.3,127.44 L202.4,127.45 L202.5,127.47 L202.6,127.48 L202.7,127.48 L202.8,127.49 L202.9,127.50 L203.0,127.50 L203.1,127.51 L203.2,127.51 L203.3,127.52 L203.4,127.52 L203.5,127.52 L203.6,127.53 L203.7,127.53 L203.8,127.53 L203.9,127.53 L204.0,127.53 L204.1,127.54 L204.2,127.54 L204.3,127.54 L204.4,127.54 L204.5,127.54 L204.6,127.54 L204.7,127.54 L204.8,127.54 L204.9,127.55 L205.0,127.55 L205.1,127.55 L205.2,127.55 L205.3,127.55 L205.4,127.55 L205.5,127.55 L205.6,127.55 L205.7,127.55 L205.8,127.55 L206.8,127.55 L207.8,127.56 L208.8,127.56 L209.8,127.56 L210.8,127.56 L211.8,127.56 L212.8,127.56 L213.8,127.56 L214.8,127.56 L215.8,127.56 L216.8,127.56 L217.8,127.56 L218.8,127.56 L219.8,127.56 L220.8,127.56 L221.8,127.56 L222.8,127.56 L223.8,127.56 L224.8,127.56 L225.8,127.56 L226.8,127.55 L227.8,127.55 L228.8,127.55 L229.8,127.55 L230.8,127.55 L231.8,127.55 L232.8,127.55 L233.8,127.55 L234.8,127.55 L235.8,127.55 L236.8,127.55 L237.8,127.55 L238.8,127.55 L239.8,127.55 L240.8,127.54 L241.8,127.54 L242.8,127.54 L243.8,127.54 L244.8,127.54 L245.8,127.54 L246.8,127.54 L247.8,127.54 L248.8,127.54 L249.8,127.53 L250.8,127.53 L251.8,127.53 L252.8,127.53 L253.8,127.53 L254.8,127.53 L255.8,127.52 L256.8,127.52 L257.8,127.52 L258.8,127.52 L259.8,127.52 L260.8,127.51 L261.8,127.51 L262.8,127.51 L263.8,127.51 L264.8,127.50 L265.8,127.50 L266.8,127.50 L267.8,127.49 L268.8,127.49 L269.8,127.48 L270.8,127.48 L271.8,127.47 L272.8,127.47 L273.8,127.46 L274.8,127.45 L275.8,127.44 L276.8,127.43 L277.8,127.42 L278.8,127.41 L279.8,127.39 L280.8,127.37 L281.8,127.34 L282.8,127.30 L283.8,127.25 L284.8,127.18 L285.8,127.09 L286.8,126.94 L287.8,126.70 L287.9,126.67 L288.0,126.64 L288.1,126.60 L288.2,126.57 L288.3,126.53 L288.4,126.49 L288.5,126.44 L288.6,126.39 L288.7,126.34 L288.8,126.29 L288.9,126.23 L289.0,126.17 L289.1,126.10 L289.2,126.03 L289.3,125.95 L289.4,125.87 L289.5,125.78 L289.6,125.68 L289.7,125.58 L289.8,125.47 L289.9,125.34 L290.0,125.20 L290.1,125.05 L290.2,124.89 L290.3,124.70 L290.4,124.50 L290.5,124.27 L290.6,124.01 L290.7,123.72 L290.8,123.38 L290.9,122.99 L291.0,122.53 L291.1,121.99 L291.2,121.34 L291.3,120.54 L291.4,119.55 L291.5,118.30 L291.6,116.69 L291.7,114.59 L291.8,111.83 L291.9,108.27 L292.0,103.85 L292.1,98.96 L292.2,94.77 L292.3,93.30 L292.4,94.77 L292.5,98.96 L292.6,103.85 L292.7,108.26 L292.8,111.83 L292.9,114.58 L293.0,116.68 L293.1,118.29 L293.2,119.54 L293.3,120.53 L293.4,121.32 L293.5,121.98 L293.6,122.52 L293.7,122.97 L293.8,123.36 L293.9,123.69 L294.0,123.99 L294.1,124.24 L294.2,124.47 L294.3,124.67 L294.4,124.86 L294.5,125.02 L294.6,125.17 L294.7,125.30 L294.8,125.42 L294.9,125.54 L295.0,125.64 L295.1,125.73 L295.2,125.82 L295.3,125.90 L295.4,125.98 L295.5,126.04 L295.6,126.11 L295.7,126.17 L295.8,126.22 L295.9,126.27 L296.0,126.32 L296.1,126.36 L296.2,126.40 L296.3,126.44 L296.4,126.47 L296.5,126.50 L296.6,126.53 L296.7,126.55 L296.8,126.58 L296.9,126.60 L297.0,126.61 L297.1,126.63 L297.2,126.64 L297.3,126.65 L297.4,126.65 L297.5,126.65 L297.6,126.65 L297.7,126.64 L297.8,126.63 L297.9,126.62 L298.0,126.59 L298.1,126.56 L298.2,126.52 L298.3,126.48 L298.4,126.43 L298.5,126.37 L298.6,126.31 L298.7,126.25 L298.8,126.20 L298.9,126.17 L299.0,126.17 L299.1,126.19 L299.2,126.24 L299.3,126.31 L299.4,126.39 L299.5,126.47 L299.6,126.55 L299.7,126.62 L299.8,126.69 L299.9,126.75 L300.0,126.80 L300.1,126.85 L300.2,126.89 L300.3,126.92 L300.4,126.96 L300.5,126.98 L300.6,127.01 L300.7,127.03 L300.8,127.05 L300.9,127.07 L301.0,127.08 L301.1,127.10 L301.2,127.11 L301.3,127.13 L301.4,127.14 L301.5,127.15 L301.6,127.16 L301.7,127.16 L301.8,127.17 L301.9,127.18 L302.0,127.19 L302.1,127.19 L302.2,127.20 L302.3,127.21 L302.4,127.21 L302.5,127.22 L302.6,127.22 L302.7,127.23 L302.8,127.23 L302.9,127.24 L303.0,127.24 L303.1,127.24 L303.2,127.25 L303.3,127.25 L303.4,127.25 L303.5,127.26 L303.6,127.26 L303.7,127.26 L303.8,127.27 L303.9,127.27 L304.0,127.27 L305.0,127.29 L306.0,127.31 L307.0,127.31 L308.0,127.32 L309.0,127.32 L309.1,127.32 L309.2,127.32 L309.3,127.32 L309.4,127.32 L309.5,127.32 L309.6,127.32 L309.7,127.32 L309.8,127.32 L309.9,127.31 L310.0,127.31 L310.1,127.31 L310.2,127.31 L310.3,127.31 L310.4,127.31 L310.5,127.31 L310.6,127.31 L310.7,127.31 L310.8,127.30 L310.9,127.30 L311.0,127.30 L311.1,127.30 L311.2,127.30 L311.3,127.29 L311.4,127.29 L311.5,127.29 L311.6,127.28 L311.7,127.28 L311.8,127.28 L311.9,127.27 L312.0,127.26 L312.1,127.26 L312.2,127.25 L312.3,127.24 L312.4,127.23 L312.5,127.22 L312.6,127.20 L312.7,127.19 L312.8,127.17 L312.9,127.14 L313.0,127.12 L313.1,127.08 L313.2,127.04 L313.3,126.99 L313.4,126.93 L313.5,126.85 L313.6,126.77 L313.7,126.69 L313.8,126.61 L313.9,126.55 L314.0,126.52 L314.1,126.55 L314.2,126.60 L314.3,126.68 L314.4,126.77 L314.5,126.85 L314.6,126.92 L314.7,126.98 L314.8,127.03 L314.9,127.07 L315.0,127.11 L315.1,127.14 L315.2,127.16 L315.3,127.18 L315.4,127.19 L315.5,127.21 L315.6,127.22 L315.7,127.23 L315.8,127.24 L315.9,127.24 L316.0,127.25 L316.1,127.25 L316.2,127.26 L316.3,127.26 L316.4,127.27 L316.5,127.27 L316.6,127.27 L316.7,127.27 L316.8,127.27 L316.9,127.28 L317.0,127.28 L317.1,127.28 L317.2,127.28 L317.3,127.28 L317.4,127.28 L317.5,127.28 L317.6,127.28 L317.7,127.28 L317.8,127.28 L317.9,127.28 L318.0,127.28 L318.1,127.28 L318.2,127.28 L318.3,127.28 L318.4,127.28 L318.5,127.28 L318.6,127.28 L318.7,127.28 L318.8,127.28 L318.9,127.28 L319.0,127.28 L320.0,127.28 L321.0,127.27 L322.0,127.26 L323.0,127.25 L324.0,127.24 L325.0,127.22 L326.0,127.21 L327.0,127.19 L328.0,127.17 L329.0,127.15 L330.0,127.13 L331.0,127.11 L332.0,127.08 L333.0,127.04 L334.0,127.00 L335.0,126.95 L336.0,126.89 L337.0,126.80 L338.0,126.69 L339.0,126.53 L339.1,126.51 L339.2,126.49 L339.3,126.47 L339.4,126.45 L339.5,126.42 L339.6,126.40 L339.7,126.37 L339.8,126.34 L339.9,126.31 L340.0,126.28 L340.1,126.25 L340.2,126.21 L340.3,126.17 L340.4,126.13 L340.5,126.09 L340.6,126.04 L340.7,125.99 L340.8,125.94 L340.9,125.88 L341.0,125.82 L341.1,125.75 L341.2,125.68 L341.3,125.59 L341.4,125.50 L341.5,125.40 L341.6,125.29 L341.7,125.16 L341.8,125.02 L341.9,124.85 L342.0,124.66 L342.1,124.44 L342.2,124.17 L342.3,123.85 L342.4,123.46 L342.5,122.98 L342.6,122.36 L342.7,121.56 L342.8,120.48 L342.9,119.00 L343.0,116.87 L343.1,113.71 L343.2,108.83 L343.3,101.06 L343.4,93.30 L343.5,93.30 L343.6,93.30 L343.7,93.30 L343.8,93.30 L343.9,100.89 L344.0,108.61 L344.1,113.44 L344.2,116.55 L344.3,118.63 L344.4,120.07 L344.5,121.10 L344.6,121.87 L344.7,122.46 L344.8,122.91 L344.9,123.28 L345.0,123.57 L345.1,123.82 L345.2,124.03 L345.3,124.21 L345.4,124.36 L345.5,124.50 L345.6,124.62 L345.7,124.73 L345.8,124.83 L345.9,124.92 L346.0,125.01 L346.1,125.09 L346.2,125.16 L346.3,125.23 L346.4,125.29 L346.5,125.35 L346.6,125.41 L346.7,125.46 L346.8,125.51 L346.9,125.56 L347.0,125.61 L347.1,125.65 L347.2,125.69 L347.3,125.73 L347.4,125.77 L347.5,125.80 L347.6,125.83 L347.7,125.86 L347.8,125.89 L347.9,125.92 L348.0,125.95 L348.1,125.97 L348.2,126.00 L348.3,126.02 L348.4,126.04 L348.5,126.06 L348.6,126.08 L349.6,126.22 L350.6,126.29 L351.6,126.32 L352.6,126.33 L353.6,126.31 L354.6,126.28 L355.6,126.23 L356.6,126.17 L357.6,126.10 L358.6,126.02 L359.6,125.92 L360.6,125.81 L361.6,125.68 L362.6,125.52 L363.6,125.34 L364.6,125.11 L364.7,125.08 L364.8,125.06 L364.9,125.03 L365.0,125.00 L365.1,124.97 L365.2,124.94 L365.3,124.91 L365.4,124.88 L365.5,124.85 L365.6,124.81 L365.7,124.78 L365.8,124.74 L365.9,124.70 L366.0,124.66 L366.1,124.62 L366.2,124.57 L366.3,124.52 L366.4,124.47 L366.5,124.42 L366.6,124.36 L366.7,124.30 L366.8,124.24 L366.9,124.16 L367.0,124.09 L367.1,124.00 L367.2,123.90 L367.3,123.80 L367.4,123.68 L367.5,123.54 L367.6,123.39 L367.7,123.20 L367.8,122.99 L367.9,122.73 L368.0,122.42 L368.1,122.02 L368.2,121.53 L368.3,120.88 L368.4,120.00 L368.5,118.79 L368.6,117.03 L368.7,114.37 L368.8,110.12 L368.9,103.03 L369.0,93.30 L369.1,93.30 L369.2,93.30 L369.3,93.30 L369.4,93.30 L369.5,102.73 L369.6,109.72 L369.7,113.87 L369.8,116.42 L369.9,118.07 L370.0,119.17 L370.1,119.93 L370.2,120.46 L370.3,120.83 L370.4,121.09 L370.5,121.27 L370.6,121.38 L370.7,121.43 L370.8,121.44 L370.9,121.40 L371.0,121.32 L371.1,121.20 L371.2,121.03 L371.3,120.80 L371.4,120.50 L371.5,120.12 L371.6,119.63 L371.7,118.97 L371.8,118.08 L371.9,116.84 L372.0,115.06 L372.1,112.36 L372.2,108.07 L372.3,100.93 L372.4,93.30 L372.5,93.30 L372.6,93.30 L372.7,93.30 L372.8,93.30 L372.9,100.24 L373.0,107.16 L373.1,111.22 L373.2,113.70 L373.3,115.27 L373.4,116.30 L373.5,116.99 L373.6,117.45 L373.7,117.76 L373.8,117.96 L373.9,118.09 L374.0,118.15 L374.1,118.16 L374.2,118.13 L374.3,118.05 L374.4,117.94 L374.5,117.78 L374.6,117.57 L374.7,117.33 L374.8,117.03 L374.9,116.71 L375.0,116.36 L375.1,116.01 L375.2,115.71 L375.3,115.48 L375.4,115.38 L375.5,115.43 L375.6,115.64 L375.7,116.01 L375.8,116.50 L375.9,117.07 L376.0,117.67 L376.1,118.28 L376.2,118.86 L376.3,119.40 L376.4,119.90 L376.5,120.36 L376.6,120.76 L376.7,121.12 L376.8,121.45 L376.9,121.74 L377.0,122.00 L377.1,122.23 L377.2,122.44 L377.3,122.63 L377.4,122.80 L377.5,122.96 L377.6,123.10 L377.7,123.23 L377.8,123.34 L377.9,123.45 L378.0,123.55 L378.1,123.65 L378.2,123.73 L378.3,123.81 L378.4,123.88 L378.5,123.95 L378.6,124.02 L378.7,124.08 L378.8,124.13 L378.9,124.18 L379.0,124.23 L379.1,124.28 L379.2,124.32 L379.3,124.36 L379.4,124.40 L379.5,124.43 L379.6,124.46 L379.7,124.49 L379.8,124.52 L379.9,124.54 L380.0,124.57 L380.1,124.59 L380.2,124.60 L380.3,124.62 L380.4,124.64 L380.5,124.65 L380.6,124.66 L380.7,124.67 L380.8,124.67 L380.9,124.68 L381.0,124.68 L381.1,124.68 L381.2,124.68 L381.3,124.67 L381.4,124.66 L381.5,124.65 L381.6,124.63 L381.7,124.62 L381.8,124.59 L381.9,124.57 L382.0,124.53 L382.1,124.50 L382.2,124.45 L382.3,124.41 L382.4,124.35 L382.5,124.28 L382.6,124.21 L382.7,124.12 L382.8,124.01 L382.9,123.89 L383.0,123.75 L383.1,123.58 L383.2,123.38 L383.3,123.14 L383.4,122.84 L383.5,122.47 L383.6,122.00 L383.7,121.40 L383.8,120.62 L383.9,119.56 L384.0,118.09 L384.1,115.99 L384.2,112.84 L384.3,107.97 L384.4,100.21 L384.5,93.30 L384.6,93.30 L384.7,93.30 L384.8,93.30 L384.9,93.30 L385.0,100.10 L385.1,107.83 L385.2,112.67 L385.3,115.78 L385.4,117.86 L385.5,119.30 L385.6,120.34 L385.7,121.10 L385.8,121.69 L385.9,122.14 L386.0,122.51 L386.1,122.81 L386.2,123.05 L386.3,123.26 L386.4,123.44 L386.5,123.60 L386.6,123.74 L386.7,123.87 L386.8,123.98 L386.9,124.09 L387.0,124.18 L387.1,124.28 L387.2,124.36 L387.3,124.45 L387.4,124.52 L387.5,124.60 L387.6,124.67 L387.7,124.74 L387.8,124.80 L387.9,124.87 L388.0,124.93 L388.1,124.99 L388.2,125.04 L388.3,125.09 L388.4,125.15 L388.5,125.20 L388.6,125.24 L388.7,125.29 L388.8,125.33 L388.9,125.37 L389.0,125.41 L389.1,125.45 L389.2,125.49 L389.3,125.53 L389.4,125.56 L389.5,125.59 L389.6,125.63 L389.7,125.66 L390.7,125.90 L391.7,126.05 L392.7,126.15 L393.7,126.18 L394.7,126.15 L394.8,126.14 L394.9,126.14 L395.0,126.13 L395.1,126.12 L395.2,126.10 L395.3,126.09 L395.4,126.08 L395.5,126.06 L395.6,126.04 L395.7,126.02 L395.8,126.00 L395.9,125.98 L396.0,125.95 L396.1,125.92 L396.2,125.89 L396.3,125.85 L396.4,125.81 L396.5,125.77 L396.6,125.72 L396.7,125.67 L396.8,125.61 L396.9,125.54 L397.0,125.47 L397.1,125.38 L397.2,125.28 L397.3,125.17 L397.4,125.04 L397.5,124.89 L397.6,124.72 L397.7,124.51 L397.8,124.26 L397.9,123.96 L398.0,123.58 L398.1,123.11 L398.2,122.51 L398.3,121.71 L398.4,120.65 L398.5,119.18 L398.6,117.07 L398.7,113.92 L398.8,109.04 L398.9,101.27 L399.0,93.30 L399.1,93.30 L399.2,93.30 L399.3,93.30 L399.4,93.30 L399.5,101.11 L399.6,108.81 L399.7,113.64 L399.8,116.74 L399.9,118.80 L400.0,120.23 L400.1,121.25 L400.2,121.99 L400.3,122.56 L400.4,122.99 L400.5,123.34 L400.6,123.61 L400.7,123.84 L400.8,124.02 L400.9,124.18 L401.0,124.32 L401.1,124.44 L401.2,124.54 L401.3,124.64 L401.4,124.73 L401.5,124.81 L401.6,124.89 L401.7,124.96 L401.8,125.03 L401.9,125.10 L402.0,125.16 L402.1,125.23 L402.2,125.29 L402.3,125.35 L402.4,125.41 L402.5,125.46 L402.6,125.52 L402.7,125.57 L402.8,125.62 L402.9,125.67 L403.0,125.72 L403.1,125.77 L403.2,125.82 L403.3,125.86 L403.4,125.91 L403.5,125.95 L403.6,125.99 L403.7,126.03 L403.8,126.06 L403.9,126.10 L404.0,126.14 L404.1,126.17 L404.2,126.20 L405.2,126.47 L406.2,126.65 L407.2,126.78 L408.2,126.88 L409.2,126.95 L410.2,127.01 L411.2,127.06 L412.2,127.10 L413.2,127.13 L414.2,127.16 L415.2,127.18 L416.2,127.20 L417.2,127.22 L418.2,127.24 L419.2,127.26 L420.2,127.27 L421.2,127.29 L422.2,127.30 L423.2,127.31 L424.2,127.32 L425.2,127.33 L426.2,127.34 L427.2,127.35 L428.2,127.36 L429.2,127.37 L430.2,127.38 L431.2,127.38 L432.2,127.39 L433.2,127.40 L434.2,127.40 L435.2,127.41 L436.2,127.42" fill="none" stroke="#1a1a1a" stroke-width="1.20" stroke-linejoin="round"/>
<rect x="342.55" y="93.3" width="2.1" height="18" fill="#111"/>
<rect x="383.65" y="93.3" width="2.1" height="18" fill="#111"/>
<rect x="398.15" y="93.3" width="2.1" height="18" fill="#111"/>
<path d="M137.6,169.39 L138.6,169.39 L139.6,169.39 L140.6,169.39 L141.6,169.39 L142.6,169.38 L143.6,169.38 L144.6,169.38 L145.6,169.38 L146.6,169.38 L147.6,169.38 L148.6,169.38 L149.6,169.38 L150.6,169.38 L151.6,169.38 L152.6,169.38 L153.6,169.38 L154.6,169.38 L155.6,169.38 L156.6,169.38 L157.6,169.37 L158.6,169.37 L158.7,169.37 L158.8,169.37 L158.9,169.37 L159.0,169.37 L159.1,169.37 L159.2,169.36 L159.3,169.36 L159.4,169.36 L159.5,169.36 L159.6,169.36 L159.7,169.36 L159.8,169.36 L159.9,169.36 L160.0,169.35 L160.1,169.35 L160.2,169.35 L160.3,169.35 L160.4,169.35 L160.5,169.34 L160.6,169.34 L160.7,169.34 L160.8,169.33 L160.9,169.33 L161.0,169.32 L161.1,169.32 L161.2,169.31 L161.3,169.30 L161.4,169.29 L161.5,169.28 L161.6,169.27 L161.7,169.25 L161.8,169.23 L161.9,169.21 L162.0,169.18 L162.1,169.15 L162.2,169.10 L162.3,169.04 L162.4,168.97 L162.5,168.88 L162.6,168.77 L162.7,168.65 L162.8,168.52 L162.9,168.43 L163.0,168.39 L163.1,168.43 L163.2,168.52 L163.3,168.65 L163.4,168.77 L163.5,168.88 L163.6,168.97 L163.7,169.04 L163.8,169.10 L163.9,169.14 L164.0,169.18 L164.1,169.21 L164.2,169.23 L164.3,169.25 L164.4,169.26 L164.5,169.28 L164.6,169.29 L164.7,169.30 L164.8,169.30 L164.9,169.31 L165.0,169.32 L165.1,169.32 L165.2,169.33 L165.3,169.33 L165.4,169.33 L165.5,169.34 L165.6,169.34 L165.7,169.34 L165.8,169.34 L165.9,169.34 L166.0,169.35 L166.1,169.35 L166.2,169.35 L166.3,169.35 L166.4,169.35 L166.5,169.35 L166.6,169.35 L166.7,169.35 L166.8,169.35 L166.9,169.35 L167.0,169.35 L167.1,169.35 L167.2,169.35 L167.3,169.35 L167.4,169.35 L167.5,169.35 L167.6,169.35 L167.7,169.35 L167.8,169.35 L167.9,169.35 L168.0,169.35 L168.1,169.35 L168.2,169.35 L168.3,169.35 L168.4,169.34 L168.5,169.34 L168.6,169.34 L168.7,169.34 L168.8,169.34 L168.9,169.33 L169.0,169.33 L169.1,169.33 L169.2,169.32 L169.3,169.32 L169.4,169.31 L169.5,169.30 L169.6,169.30 L169.7,169.29 L169.8,169.27 L169.9,169.26 L170.0,169.24 L170.1,169.22 L170.2,169.19 L170.3,169.15 L170.4,169.09 L170.5,169.02 L170.6,168.92 L170.7,168.78 L170.8,168.59 L170.9,168.36 L171.0,168.13 L171.1,168.03 L171.2,168.13 L171.3,168.35 L171.4,168.58 L171.5,168.76 L171.6,168.90 L171.7,168.99 L171.8,169.06 L171.9,169.10 L172.0,169.13 L172.1,169.15 L172.2,169.17 L172.3,169.17 L172.4,169.16 L172.5,169.15 L172.6,169.13 L172.7,169.10 L172.8,169.05 L172.9,168.98 L173.0,168.87 L173.1,168.70 L173.2,168.46 L173.3,168.12 L173.4,167.76 L173.5,167.59 L173.6,167.77 L173.7,168.13 L173.8,168.47 L173.9,168.72 L174.0,168.89 L174.1,169.01 L174.2,169.08 L174.3,169.14 L174.4,169.18 L174.5,169.22 L174.6,169.24 L174.7,169.26 L174.8,169.27 L174.9,169.29 L175.0,169.30 L175.1,169.30 L175.2,169.31 L175.3,169.32 L175.4,169.32 L175.5,169.33 L175.6,169.33 L175.7,169.33 L175.8,169.34 L175.9,169.34 L176.0,169.34 L176.1,169.34 L176.2,169.34 L176.3,169.35 L176.4,169.35 L176.5,169.35 L176.6,169.35 L176.7,169.35 L176.8,169.35 L176.9,169.35 L177.0,169.35 L177.1,169.35 L177.2,169.35 L177.3,169.36 L177.4,169.36 L177.5,169.36 L177.6,169.36 L177.7,169.36 L177.8,169.36 L177.9,169.36 L178.0,169.36 L178.1,169.36 L178.2,169.36 L178.3,169.36 L178.4,169.36 L178.5,169.36 L178.6,169.36 L179.6,169.35 L179.7,169.35 L179.8,169.35 L179.9,169.35 L180.0,169.35 L180.1,169.35 L180.2,169.35 L180.3,169.35 L180.4,169.35 L180.5,169.35 L180.6,169.35 L180.7,169.34 L180.8,169.34 L180.9,169.34 L181.0,169.34 L181.1,169.34 L181.2,169.33 L181.3,169.33 L181.4,169.33 L181.5,169.33 L181.6,169.32 L181.7,169.32 L181.8,169.31 L181.9,169.31 L182.0,169.30 L182.1,169.30 L182.2,169.29 L182.3,169.28 L182.4,169.27 L182.5,169.25 L182.6,169.24 L182.7,169.22 L182.8,169.20 L182.9,169.17 L183.0,169.14 L183.1,169.09 L183.2,169.03 L183.3,168.96 L183.4,168.85 L183.5,168.71 L183.6,168.50 L183.7,168.23 L183.8,167.89 L183.9,167.56 L184.0,167.41 L184.1,167.53 L184.2,167.83 L184.3,168.14 L184.4,168.37 L184.5,168.53 L184.6,168.61 L184.7,168.64 L184.8,168.60 L184.9,168.51 L185.0,168.34 L185.1,168.12 L185.2,167.90 L185.3,167.82 L185.4,167.94 L185.5,168.20 L185.6,168.46 L185.7,168.68 L185.8,168.83 L185.9,168.95 L186.0,169.03 L186.1,169.09 L186.2,169.14 L186.3,169.17 L186.4,169.20 L186.5,169.22 L186.6,169.24 L186.7,169.26 L186.8,169.27 L186.9,169.28 L187.0,169.29 L187.1,169.29 L187.2,169.30 L187.3,169.31 L187.4,169.31 L187.5,169.31 L187.6,169.32 L187.7,169.32 L187.8,169.32 L187.9,169.33 L188.0,169.33 L188.1,169.33 L188.2,169.33 L188.3,169.33 L188.4,169.33 L188.5,169.34 L188.6,169.34 L188.7,169.34 L188.8,169.34 L188.9,169.34 L189.0,169.34 L189.1,169.34 L189.2,169.34 L189.3,169.34 L189.4,169.34 L189.5,169.34 L189.6,169.33 L189.7,169.33 L189.8,169.33 L189.9,169.33 L190.0,169.33 L190.1,169.32 L190.2,169.32 L190.3,169.32 L190.4,169.31 L190.5,169.31 L190.6,169.30 L190.7,169.29 L190.8,169.28 L190.9,169.27 L191.0,169.25 L191.1,169.23 L191.2,169.20 L191.3,169.16 L191.4,169.11 L191.5,169.04 L191.6,168.93 L191.7,168.77 L191.8,168.54 L191.9,168.22 L192.0,167.88 L192.1,167.72 L192.2,167.88 L192.3,168.22 L192.4,168.54 L192.5,168.77 L192.6,168.93 L192.7,169.04 L192.8,169.11 L192.9,169.16 L193.0,169.20 L193.1,169.23 L193.2,169.25 L193.3,169.27 L193.4,169.28 L193.5,169.29 L193.6,169.30 L193.7,169.31 L193.8,169.32 L193.9,169.32 L194.0,169.33 L194.1,169.33 L194.2,169.33 L194.3,169.34 L194.4,169.34 L194.5,169.34 L194.6,169.34 L194.7,169.34 L194.8,169.35 L194.9,169.35 L195.0,169.35 L195.1,169.35 L195.2,169.35 L195.3,169.35 L195.4,169.35 L195.5,169.35 L195.6,169.35 L195.7,169.35 L195.8,169.35 L195.9,169.35 L196.0,169.35 L196.1,169.35 L196.2,169.35 L196.3,169.35 L196.4,169.35 L196.5,169.35 L196.6,169.35 L196.7,169.35 L196.8,169.35 L196.9,169.35 L197.0,169.35 L197.1,169.35 L197.2,169.35 L197.3,169.35 L197.4,169.35 L197.5,169.35 L197.6,169.35 L197.7,169.35 L197.8,169.35 L197.9,169.35 L198.0,169.34 L198.1,169.34 L198.2,169.34 L198.3,169.34 L198.4,169.34 L198.5,169.33 L198.6,169.33 L198.7,169.33 L198.8,169.32 L198.9,169.32 L199.0,169.31 L199.1,169.30 L199.2,169.29 L199.3,169.28 L199.4,169.27 L199.5,169.25 L199.6,169.23 L199.7,169.21 L199.8,169.17 L199.9,169.13 L200.0,169.06 L200.1,168.97 L200.2,168.85 L200.3,168.66 L200.4,168.38 L200.5,168.00 L200.6,167.59 L200.7,167.39 L200.8,167.59 L200.9,168.00 L201.0,168.38 L201.1,168.66 L201.2,168.85 L201.3,168.97 L201.4,169.06 L201.5,169.13 L201.6,169.17 L201.7,169.21 L201.8,169.23 L201.9,169.25 L202.0,169.27 L202.1,169.28 L202.2,169.29 L202.3,169.30 L202.4,169.31 L202.5,169.32 L202.6,169.32 L202.7,169.33 L202.8,169.33 L202.9,169.33 L203.0,169.34 L203.1,169.34 L203.2,169.34 L203.3,169.34 L203.4,169.35 L203.5,169.35 L203.6,169.35 L203.7,169.35 L203.8,169.35 L203.9,169.35 L204.0,169.35 L204.1,169.36 L204.2,169.36 L204.3,169.36 L204.4,169.36 L204.5,169.36 L204.6,169.36 L204.7,169.36 L204.8,169.36 L204.9,169.36 L205.0,169.36 L205.1,169.36 L205.2,169.36 L205.3,169.36 L205.4,169.36 L205.5,169.36 L205.6,169.36 L205.7,169.36 L205.8,169.36 L206.8,169.37 L207.8,169.37 L208.8,169.37 L209.8,169.37 L210.8,169.37 L211.8,169.37 L212.8,169.37 L213.8,169.37 L214.8,169.37 L215.8,169.37 L216.8,169.37 L217.8,169.37 L218.8,169.37 L219.8,169.37 L220.8,169.37 L221.8,169.36 L222.8,169.36 L223.8,169.36 L224.8,169.36 L225.8,169.36 L226.8,169.36 L227.8,169.36 L228.8,169.36 L229.8,169.36 L230.8,169.36 L231.8,169.36 L232.8,169.36 L233.8,169.36 L234.8,169.36 L235.8,169.36 L236.8,169.36 L237.8,169.36 L238.8,169.35 L239.8,169.35 L240.8,169.35 L241.8,169.35 L242.8,169.35 L243.8,169.35 L244.8,169.35 L245.8,169.35 L246.8,169.35 L247.8,169.35 L248.8,169.35 L249.8,169.34 L250.8,169.34 L251.8,169.34 L252.8,169.34 L253.8,169.34 L254.8,169.34 L255.8,169.34 L256.8,169.33 L257.8,169.33 L258.8,169.33 L259.8,169.33 L260.8,169.33 L261.8,169.32 L262.8,169.32 L263.8,169.32 L264.8,169.32 L265.8,169.31 L266.8,169.31 L267.8,169.31 L268.8,169.30 L269.8,169.30 L270.8,169.29 L271.8,169.29 L272.8,169.28 L273.8,169.28 L274.8,169.27 L275.8,169.26 L276.8,169.25 L277.8,169.23 L278.8,169.22 L279.8,169.20 L280.8,169.18 L281.8,169.15 L282.8,169.11 L283.8,169.05 L284.8,168.98 L285.8,168.87 L286.8,168.70 L287.8,168.42 L287.9,168.39 L288.0,168.35 L288.1,168.30 L288.2,168.26 L288.3,168.21 L288.4,168.16 L288.5,168.11 L288.6,168.05 L288.7,167.99 L288.8,167.92 L288.9,167.85 L289.0,167.77 L289.1,167.69 L289.2,167.60 L289.3,167.50 L289.4,167.39 L289.5,167.28 L289.6,167.15 L289.7,167.01 L289.8,166.86 L289.9,166.69 L290.0,166.51 L290.1,166.30 L290.2,166.07 L290.3,165.81 L290.4,165.51 L290.5,165.17 L290.6,164.78 L290.7,164.31 L290.8,163.77 L290.9,163.10 L291.0,162.30 L291.1,161.29 L291.2,160.02 L291.3,158.38 L291.4,156.25 L291.5,153.46 L291.6,149.84 L291.7,145.35 L291.8,140.38 L291.9,136.13 L292.0,134.39 L292.1,136.13 L292.2,140.38 L292.3,145.35 L292.4,149.83 L292.5,153.45 L292.6,156.24 L292.7,158.37 L292.8,160.01 L292.9,161.28 L293.0,162.29 L293.1,163.09 L293.2,163.75 L293.3,164.30 L293.4,164.76 L293.5,165.16 L293.6,165.50 L293.7,165.79 L293.8,166.05 L293.9,166.28 L294.0,166.49 L294.1,166.67 L294.2,166.84 L294.3,166.99 L294.4,167.13 L294.5,167.25 L294.6,167.36 L294.7,167.47 L294.8,167.57 L294.9,167.65 L295.0,167.74 L295.1,167.81 L295.2,167.88 L295.3,167.95 L295.4,168.01 L295.5,168.06 L295.6,168.12 L295.7,168.16 L295.8,168.21 L295.9,168.25 L296.0,168.29 L296.1,168.33 L296.2,168.36 L296.3,168.39 L296.4,168.42 L296.5,168.45 L296.6,168.47 L296.7,168.50 L296.8,168.52 L296.9,168.54 L297.0,168.55 L297.1,168.57 L297.2,168.58 L297.3,168.59 L297.4,168.60 L297.5,168.60 L297.6,168.61 L297.7,168.60 L297.8,168.60 L297.9,168.59 L298.0,168.58 L298.1,168.56 L298.2,168.54 L298.3,168.51 L298.4,168.48 L298.5,168.45 L298.6,168.41 L298.7,168.37 L298.8,168.34 L298.9,168.33 L299.0,168.33 L299.1,168.35 L299.2,168.38 L299.3,168.43 L299.4,168.48 L299.5,168.54 L299.6,168.59 L299.7,168.64 L299.8,168.69 L299.9,168.73 L300.0,168.77 L300.1,168.80 L300.2,168.83 L300.3,168.85 L300.4,168.88 L300.5,168.90 L300.6,168.92 L300.7,168.93 L300.8,168.95 L300.9,168.96 L301.0,168.97 L301.1,168.98 L301.2,168.99 L301.3,169.00 L301.4,169.01 L301.5,169.02 L301.6,169.03 L301.7,169.03 L301.8,169.04 L301.9,169.04 L302.0,169.05 L302.1,169.06 L302.2,169.06 L302.3,169.07 L302.4,169.07 L302.5,169.07 L302.6,169.08 L302.7,169.08 L302.8,169.09 L302.9,169.09 L303.0,169.09 L303.1,169.10 L303.2,169.10 L303.3,169.10 L303.4,169.11 L303.5,169.11 L303.6,169.11 L303.7,169.11 L303.8,169.12 L303.9,169.12 L304.0,169.12 L305.0,169.14 L306.0,169.15 L307.0,169.16 L308.0,169.17 L309.0,169.17 L310.0,169.17 L311.0,169.17 L312.0,169.17 L313.0,169.17 L314.0,169.17 L315.0,169.17 L316.0,169.16 L317.0,169.16 L318.0,169.16 L319.0,169.15 L320.0,169.14 L321.0,169.14 L322.0,169.13 L323.0,169.12 L324.0,169.11 L325.0,169.10 L326.0,169.09 L327.0,169.08 L328.0,169.06 L329.0,169.05 L330.0,169.03 L331.0,169.01 L332.0,168.99 L333.0,168.96 L334.0,168.93 L335.0,168.89 L336.0,168.85 L337.0,168.79 L338.0,168.71 L339.0,168.59 L339.1,168.58 L339.2,168.56 L339.3,168.55 L339.4,168.53 L339.5,168.52 L339.6,168.50 L339.7,168.48 L339.8,168.46 L339.9,168.44 L340.0,168.42 L340.1,168.39 L340.2,168.37 L340.3,168.34 L340.4,168.32 L340.5,168.29 L340.6,168.26 L340.7,168.23 L340.8,168.19 L340.9,168.15 L341.0,168.11 L341.1,168.07 L341.2,168.02 L341.3,167.97 L341.4,167.91 L341.5,167.85 L341.6,167.79 L341.7,167.71 L341.8,167.63 L341.9,167.53 L342.0,167.42 L342.1,167.30 L342.2,167.15 L342.3,166.98 L342.4,166.77 L342.5,166.52 L342.6,166.20 L342.7,165.80 L342.8,165.27 L342.9,164.55 L343.0,163.54 L343.1,162.06 L343.2,159.76 L343.3,156.02 L343.4,149.88 L343.5,141.12 L343.6,134.79 L343.7,137.08 L343.8,142.17 L343.9,146.29 L344.0,150.64 L344.1,155.01 L344.2,158.49 L344.3,160.93 L344.4,162.60 L344.5,163.75 L344.6,164.56 L344.7,165.15 L344.8,165.60 L344.9,165.94 L345.0,166.21 L345.1,166.43 L345.2,166.61 L345.3,166.76 L345.4,166.89 L345.5,167.01 L345.6,167.10 L345.7,167.19 L345.8,167.27 L345.9,167.35 L346.0,167.41 L346.1,167.48 L346.2,167.53 L346.3,167.59 L346.4,167.64 L346.5,167.68 L346.6,167.73 L346.7,167.77 L346.8,167.81 L346.9,167.85 L347.0,167.88 L347.1,167.92 L347.2,167.95 L347.3,167.98 L347.4,168.01 L347.5,168.04 L347.6,168.06 L347.7,168.09 L347.8,168.11 L347.9,168.13 L348.0,168.15 L348.1,168.17 L348.2,168.19 L348.3,168.21 L348.4,168.23 L348.5,168.24 L348.6,168.26 L348.7,168.27 L348.8,168.29 L348.9,168.30 L349.9,168.40 L350.9,168.45 L351.9,168.48 L352.9,168.49 L353.9,168.49 L354.9,168.48 L355.9,168.47 L356.9,168.45 L357.9,168.43 L358.9,168.40 L359.9,168.37 L360.9,168.33 L361.9,168.30 L362.9,168.25 L363.9,168.20 L364.9,168.12 L365.0,168.11 L365.1,168.10 L365.2,168.09 L365.3,168.08 L365.4,168.07 L365.5,168.06 L365.6,168.05 L365.7,168.04 L365.8,168.02 L365.9,168.01 L366.0,168.00 L366.1,167.98 L366.2,167.96 L366.3,167.94 L366.4,167.92 L366.5,167.90 L366.6,167.88 L366.7,167.85 L366.8,167.82 L366.9,167.79 L367.0,167.76 L367.1,167.72 L367.2,167.68 L367.3,167.63 L367.4,167.57 L367.5,167.50 L367.6,167.43 L367.7,167.34 L367.8,167.23 L367.9,167.10 L368.0,166.94 L368.1,166.74 L368.2,166.48 L368.3,166.14 L368.4,165.68 L368.5,165.04 L368.6,164.11 L368.7,162.69 L368.8,160.44 L368.9,156.66 L369.0,150.31 L369.1,141.29 L369.2,135.79 L369.3,141.25 L369.4,150.23 L369.5,156.54 L369.6,160.27 L369.7,162.49 L369.8,163.85 L369.9,164.74 L370.0,165.34 L370.1,165.75 L370.2,166.04 L370.3,166.24 L370.4,166.39 L370.5,166.49 L370.6,166.56 L370.7,166.61 L370.8,166.63 L370.9,166.63 L371.0,166.61 L371.1,166.58 L371.2,166.53 L371.3,166.47 L371.4,166.39 L371.5,166.28 L371.6,166.16 L371.7,166.00 L371.8,165.82 L371.9,165.58 L372.0,165.29 L372.1,164.91 L372.2,164.41 L372.3,163.72 L372.4,162.75 L372.5,161.30 L372.6,159.03 L372.7,155.26 L372.8,148.97 L372.9,140.07 L373.0,134.60 L373.1,139.85 L373.2,148.54 L373.3,154.62 L373.4,158.17 L373.5,160.24 L373.6,161.48 L373.7,162.25 L373.8,162.73 L373.9,163.02 L374.0,163.19 L374.1,163.28 L374.2,163.29 L374.3,163.25 L374.4,163.15 L374.5,163.01 L374.6,162.82 L374.7,162.59 L374.8,162.32 L374.9,162.01 L375.0,161.68 L375.1,161.36 L375.2,161.07 L375.3,160.84 L375.4,160.72 L375.5,160.73 L375.6,160.88 L375.7,161.16 L375.8,161.55 L375.9,162.01 L376.0,162.50 L376.1,162.99 L376.2,163.46 L376.3,163.90 L376.4,164.30 L376.5,164.66 L376.6,164.98 L376.7,165.27 L376.8,165.52 L376.9,165.75 L377.0,165.95 L377.1,166.12 L377.2,166.28 L377.3,166.42 L377.4,166.55 L377.5,166.66 L377.6,166.76 L377.7,166.85 L377.8,166.93 L377.9,167.01 L378.0,167.08 L378.1,167.14 L378.2,167.19 L378.3,167.25 L378.4,167.29 L378.5,167.34 L378.6,167.37 L378.7,167.41 L378.8,167.44 L378.9,167.47 L379.0,167.50 L379.1,167.52 L379.2,167.55 L379.3,167.57 L379.4,167.58 L379.5,167.60 L379.6,167.62 L379.7,167.63 L379.8,167.64 L379.9,167.65 L380.0,167.66 L380.1,167.66 L380.2,167.67 L380.3,167.67 L380.4,167.67 L380.5,167.67 L380.6,167.67 L380.7,167.67 L380.8,167.66 L380.9,167.66 L381.0,167.65 L381.1,167.64 L381.2,167.63 L381.3,167.61 L381.4,167.59 L381.5,167.57 L381.6,167.55 L381.7,167.52 L381.8,167.49 L381.9,167.46 L382.0,167.42 L382.1,167.37 L382.2,167.32 L382.3,167.26 L382.4,167.19 L382.5,167.10 L382.6,167.00 L382.7,166.88 L382.8,166.74 L382.9,166.56 L383.0,166.34 L383.1,166.07 L383.2,165.71 L383.3,165.23 L383.4,164.58 L383.5,163.67 L383.6,162.37 L383.7,160.48 L383.8,157.85 L383.9,154.70 L384.0,152.00 L384.1,150.16 L384.2,147.47 L384.3,142.62 L384.4,139.89 L384.5,144.93 L384.6,152.31 L384.7,157.49 L384.8,160.60 L384.9,162.50 L385.0,163.71 L385.1,164.51 L385.2,165.07 L385.3,165.47 L385.4,165.77 L385.5,166.00 L385.6,166.18 L385.7,166.32 L385.8,166.44 L385.9,166.54 L386.0,166.63 L386.1,166.70 L386.2,166.77 L386.3,166.83 L386.4,166.89 L386.5,166.94 L386.6,166.99 L386.7,167.04 L386.8,167.09 L386.9,167.13 L387.0,167.18 L387.1,167.22 L387.2,167.26 L387.3,167.30 L387.4,167.35 L387.5,167.39 L387.6,167.43 L387.7,167.46 L387.8,167.50 L387.9,167.54 L388.0,167.57 L388.1,167.61 L388.2,167.64 L388.3,167.68 L388.4,167.71 L388.5,167.74 L388.6,167.77 L388.7,167.80 L388.8,167.83 L388.9,167.85 L389.0,167.88 L389.1,167.90 L389.2,167.93 L389.3,167.95 L389.4,167.97 L390.4,168.15 L391.4,168.25 L392.4,168.31 L393.4,168.33 L394.4,168.29 L394.5,168.28 L394.6,168.27 L394.7,168.26 L394.8,168.25 L394.9,168.24 L395.0,168.23 L395.1,168.22 L395.2,168.20 L395.3,168.19 L395.4,168.17 L395.5,168.15 L395.6,168.13 L395.7,168.11 L395.8,168.08 L395.9,168.06 L396.0,168.03 L396.1,168.00 L396.2,167.96 L396.3,167.92 L396.4,167.88 L396.5,167.83 L396.6,167.78 L396.7,167.72 L396.8,167.65 L396.9,167.57 L397.0,167.48 L397.1,167.38 L397.2,167.26 L397.3,167.13 L397.4,166.96 L397.5,166.76 L397.6,166.52 L397.7,166.22 L397.8,165.84 L397.9,165.35 L398.0,164.70 L398.1,163.82 L398.2,162.62 L398.3,161.00 L398.4,158.90 L398.5,156.56 L398.6,154.47 L398.7,152.76 L398.8,150.59 L398.9,147.55 L399.0,146.15 L399.1,149.09 L399.2,153.67 L399.3,157.12 L399.4,159.13 L399.5,160.07 L399.6,160.25 L399.7,159.80 L399.8,158.88 L399.9,157.84 L400.0,157.35 L400.1,157.82 L400.2,158.88 L400.3,159.93 L400.4,160.70 L400.5,161.21 L400.6,161.55 L400.7,161.81 L400.8,162.08 L400.9,162.40 L401.0,162.77 L401.1,163.19 L401.2,163.63 L401.3,164.06 L401.4,164.48 L401.5,164.86 L401.6,165.20 L401.7,165.51 L401.8,165.78 L401.9,166.02 L402.0,166.23 L402.1,166.42 L402.2,166.58 L402.3,166.73 L402.4,166.87 L402.5,166.99 L402.6,167.10 L402.7,167.20 L402.8,167.29 L402.9,167.38 L403.0,167.46 L403.1,167.53 L403.2,167.60 L403.3,167.67 L403.4,167.73 L403.5,167.79 L403.6,167.84 L403.7,167.89 L403.8,167.94 L403.9,167.98 L404.0,168.02 L404.1,168.06 L404.2,168.10 L404.3,168.14 L404.4,168.17 L404.5,168.21 L404.6,168.24 L404.7,168.27 L404.8,168.29 L404.9,168.32 L405.0,168.35 L405.1,168.37 L405.2,168.40 L405.3,168.42 L405.4,168.44 L405.5,168.46 L405.6,168.48 L405.7,168.50 L405.8,168.52 L406.8,168.66 L407.8,168.76 L408.8,168.84 L409.8,168.90 L410.8,168.94 L411.8,168.98 L412.8,169.01 L413.8,169.03 L414.8,169.05 L415.8,169.07 L416.8,169.09 L417.8,169.11 L418.8,169.12 L419.8,169.13 L420.8,169.14 L421.8,169.16 L422.8,169.16 L423.8,169.17 L424.8,169.18 L425.8,169.19 L426.8,169.20 L427.8,169.20 L428.8,169.21 L429.8,169.22 L430.8,169.22 L431.8,169.23 L432.8,169.23 L433.8,169.24 L434.8,169.24 L435.8,169.25" fill="none" stroke="#1a1a1a" stroke-width="1.20" stroke-linejoin="round"/>
<path d="M137.6,210.70 L138.6,210.70 L139.6,210.70 L140.6,210.70 L141.6,210.70 L142.6,210.70 L143.6,210.70 L144.6,210.70 L145.6,210.70 L146.6,210.70 L147.6,210.70 L148.6,210.70 L149.6,210.70 L150.6,210.70 L151.6,210.70 L152.6,210.70 L153.6,210.70 L154.6,210.70 L155.6,210.70 L156.6,210.69 L157.6,210.69 L158.6,210.69 L158.7,210.69 L158.8,210.69 L158.9,210.69 L159.0,210.69 L159.1,210.69 L159.2,210.69 L159.3,210.69 L159.4,210.69 L159.5,210.69 L159.6,210.69 L159.7,210.69 L159.8,210.68 L159.9,210.68 L160.0,210.68 L160.1,210.68 L160.2,210.68 L160.3,210.68 L160.4,210.68 L160.5,210.68 L160.6,210.67 L160.7,210.67 L160.8,210.67 L160.9,210.67 L161.0,210.67 L161.1,210.66 L161.2,210.66 L161.3,210.65 L161.4,210.65 L161.5,210.64 L161.6,210.64 L161.7,210.63 L161.8,210.62 L161.9,210.60 L162.0,210.59 L162.1,210.57 L162.2,210.54 L162.3,210.51 L162.4,210.47 L162.5,210.43 L162.6,210.37 L162.7,210.30 L162.8,210.23 L162.9,210.18 L163.0,210.16 L163.1,210.18 L163.2,210.23 L163.3,210.30 L163.4,210.37 L163.5,210.43 L163.6,210.47 L163.7,210.51 L163.8,210.54 L163.9,210.57 L164.0,210.59 L164.1,210.60 L164.2,210.62 L164.3,210.63 L164.4,210.63 L164.5,210.64 L164.6,210.65 L164.7,210.65 L164.8,210.66 L164.9,210.66 L165.0,210.66 L165.1,210.67 L165.2,210.67 L165.3,210.67 L165.4,210.67 L165.5,210.67 L165.6,210.67 L165.7,210.68 L165.8,210.68 L165.9,210.68 L166.0,210.68 L166.1,210.68 L166.2,210.68 L166.3,210.68 L166.4,210.68 L166.5,210.68 L166.6,210.68 L166.7,210.68 L166.8,210.68 L166.9,210.68 L167.0,210.68 L167.1,210.68 L167.2,210.68 L167.3,210.68 L167.4,210.68 L167.5,210.68 L167.6,210.68 L167.7,210.68 L167.8,210.68 L167.9,210.68 L168.0,210.68 L168.1,210.68 L168.2,210.68 L168.3,210.68 L168.4,210.68 L168.5,210.68 L168.6,210.68 L168.7,210.67 L168.8,210.67 L168.9,210.67 L169.0,210.67 L169.1,210.67 L169.2,210.67 L169.3,210.66 L169.4,210.66 L169.5,210.66 L169.6,210.65 L169.7,210.65 L169.8,210.64 L169.9,210.63 L170.0,210.62 L170.1,210.61 L170.2,210.59 L170.3,210.57 L170.4,210.54 L170.5,210.50 L170.6,210.45 L170.7,210.37 L170.8,210.27 L170.9,210.14 L171.0,210.02 L171.1,209.96 L171.2,210.01 L171.3,210.13 L171.4,210.26 L171.5,210.36 L171.6,210.43 L171.7,210.49 L171.8,210.52 L171.9,210.55 L172.0,210.56 L172.1,210.57 L172.2,210.58 L172.3,210.58 L172.4,210.58 L172.5,210.57 L172.6,210.56 L172.7,210.54 L172.8,210.52 L172.9,210.48 L173.0,210.42 L173.1,210.33 L173.2,210.20 L173.3,210.01 L173.4,209.81 L173.5,209.72 L173.6,209.82 L173.7,210.02 L173.8,210.20 L173.9,210.34 L174.0,210.43 L174.1,210.49 L174.2,210.54 L174.3,210.57 L174.4,210.59 L174.5,210.61 L174.6,210.62 L174.7,210.63 L174.8,210.64 L174.9,210.65 L175.0,210.65 L175.1,210.66 L175.2,210.66 L175.3,210.66 L175.4,210.67 L175.5,210.67 L175.6,210.67 L175.7,210.67 L175.8,210.67 L175.9,210.68 L176.0,210.68 L176.1,210.68 L176.2,210.68 L176.3,210.68 L176.4,210.68 L176.5,210.68 L176.6,210.68 L176.7,210.68 L176.8,210.68 L176.9,210.68 L177.0,210.68 L177.1,210.68 L177.2,210.68 L177.3,210.68 L177.4,210.68 L177.5,210.69 L177.6,210.69 L177.7,210.69 L177.8,210.69 L177.9,210.69 L178.0,210.69 L178.1,210.69 L178.2,210.69 L178.3,210.69 L178.4,210.69 L178.5,210.69 L178.6,210.69 L179.6,210.68 L179.7,210.68 L179.8,210.68 L179.9,210.68 L180.0,210.68 L180.1,210.68 L180.2,210.68 L180.3,210.68 L180.4,210.68 L180.5,210.68 L180.6,210.68 L180.7,210.68 L180.8,210.68 L180.9,210.68 L181.0,210.68 L181.1,210.67 L181.2,210.67 L181.3,210.67 L181.4,210.67 L181.5,210.67 L181.6,210.67 L181.7,210.66 L181.8,210.66 L181.9,210.66 L182.0,210.66 L182.1,210.65 L182.2,210.65 L182.3,210.64 L182.4,210.64 L182.5,210.63 L182.6,210.62 L182.7,210.61 L182.8,210.60 L182.9,210.59 L183.0,210.57 L183.1,210.54 L183.2,210.51 L183.3,210.47 L183.4,210.41 L183.5,210.33 L183.6,210.22 L183.7,210.07 L183.8,209.89 L183.9,209.71 L184.0,209.62 L184.1,209.69 L184.2,209.85 L184.3,210.02 L184.4,210.15 L184.5,210.23 L184.6,210.28 L184.7,210.29 L184.8,210.27 L184.9,210.22 L185.0,210.13 L185.1,210.01 L185.2,209.89 L185.3,209.85 L185.4,209.91 L185.5,210.05 L185.6,210.20 L185.7,210.31 L185.8,210.40 L185.9,210.46 L186.0,210.51 L186.1,210.54 L186.2,210.57 L186.3,210.59 L186.4,210.60 L186.5,210.61 L186.6,210.62 L186.7,210.63 L186.8,210.64 L186.9,210.64 L187.0,210.65 L187.1,210.65 L187.2,210.66 L187.3,210.66 L187.4,210.66 L187.5,210.66 L187.6,210.67 L187.7,210.67 L187.8,210.67 L187.9,210.67 L188.0,210.67 L188.1,210.67 L188.2,210.67 L188.3,210.67 L188.4,210.67 L188.5,210.67 L188.6,210.68 L188.7,210.68 L188.8,210.68 L188.9,210.68 L189.0,210.68 L189.1,210.68 L189.2,210.68 L189.3,210.68 L189.4,210.68 L189.5,210.68 L189.6,210.67 L189.7,210.67 L189.8,210.67 L189.9,210.67 L190.0,210.67 L190.1,210.67 L190.2,210.67 L190.3,210.67 L190.4,210.66 L190.5,210.66 L190.6,210.66 L190.7,210.65 L190.8,210.64 L190.9,210.64 L191.0,210.63 L191.1,210.62 L191.2,210.60 L191.3,210.58 L191.4,210.55 L191.5,210.51 L191.6,210.45 L191.7,210.37 L191.8,210.24 L191.9,210.07 L192.0,209.88 L192.1,209.79 L192.2,209.88 L192.3,210.07 L192.4,210.24 L192.5,210.37 L192.6,210.45 L192.7,210.51 L192.8,210.55 L192.9,210.58 L193.0,210.60 L193.1,210.62 L193.2,210.63 L193.3,210.64 L193.4,210.65 L193.5,210.65 L193.6,210.66 L193.7,210.66 L193.8,210.67 L193.9,210.67 L194.0,210.67 L194.1,210.67 L194.2,210.67 L194.3,210.68 L194.4,210.68 L194.5,210.68 L194.6,210.68 L194.7,210.68 L194.8,210.68 L194.9,210.68 L195.0,210.68 L195.1,210.68 L195.2,210.68 L195.3,210.68 L195.4,210.68 L195.5,210.68 L195.6,210.69 L195.7,210.69 L195.8,210.69 L195.9,210.69 L196.0,210.69 L196.1,210.69 L196.2,210.69 L196.3,210.69 L196.4,210.69 L196.5,210.69 L196.6,210.69 L196.7,210.69 L196.8,210.69 L196.9,210.69 L197.0,210.69 L197.1,210.69 L197.2,210.68 L197.3,210.68 L197.4,210.68 L197.5,210.68 L197.6,210.68 L197.7,210.68 L197.8,210.68 L197.9,210.68 L198.0,210.68 L198.1,210.68 L198.2,210.68 L198.3,210.68 L198.4,210.68 L198.5,210.67 L198.6,210.67 L198.7,210.67 L198.8,210.67 L198.9,210.67 L199.0,210.66 L199.1,210.66 L199.2,210.65 L199.3,210.65 L199.4,210.64 L199.5,210.63 L199.6,210.62 L199.7,210.61 L199.8,210.59 L199.9,210.56 L200.0,210.53 L200.1,210.48 L200.2,210.41 L200.3,210.31 L200.4,210.16 L200.5,209.95 L200.6,209.72 L200.7,209.62 L200.8,209.72 L200.9,209.95 L201.0,210.16 L201.1,210.31 L201.2,210.41 L201.3,210.48 L201.4,210.53 L201.5,210.56 L201.6,210.59 L201.7,210.61 L201.8,210.62 L201.9,210.63 L202.0,210.64 L202.1,210.65 L202.2,210.65 L202.3,210.66 L202.4,210.66 L202.5,210.67 L202.6,210.67 L202.7,210.67 L202.8,210.67 L202.9,210.68 L203.0,210.68 L203.1,210.68 L203.2,210.68 L203.3,210.68 L203.4,210.68 L203.5,210.68 L203.6,210.68 L203.7,210.69 L203.8,210.69 L203.9,210.69 L204.0,210.69 L204.1,210.69 L204.2,210.69 L204.3,210.69 L204.4,210.69 L204.5,210.69 L204.6,210.69 L204.7,210.69 L204.8,210.69 L204.9,210.69 L205.0,210.69 L205.1,210.69 L205.2,210.69 L205.3,210.69 L205.4,210.69 L205.5,210.69 L205.6,210.69 L205.7,210.69 L205.8,210.69 L206.8,210.69 L207.8,210.69 L208.8,210.69 L209.8,210.70 L210.8,210.70 L211.8,210.70 L212.8,210.70 L213.8,210.70 L214.8,210.70 L215.8,210.70 L216.8,210.70 L217.8,210.70 L218.8,210.70 L219.8,210.70 L220.8,210.70 L221.8,210.70 L222.8,210.70 L223.8,210.70 L224.8,210.70 L225.8,210.70 L226.8,210.69 L227.8,210.69 L228.8,210.69 L229.8,210.69 L230.8,210.69 L231.8,210.69 L232.8,210.69 L233.8,210.69 L234.8,210.69 L235.8,210.69 L236.8,210.69 L237.8,210.69 L238.8,210.69 L239.8,210.69 L240.8,210.69 L241.8,210.69 L242.8,210.69 L243.8,210.69 L244.8,210.69 L245.8,210.69 L246.8,210.69 L247.8,210.69 L248.8,210.69 L249.8,210.69 L250.8,210.69 L251.8,210.69 L252.8,210.69 L253.8,210.69 L254.8,210.69 L255.8,210.69 L256.8,210.68 L257.8,210.68 L258.8,210.68 L259.8,210.68 L260.8,210.68 L261.8,210.68 L262.8,210.68 L263.8,210.68 L264.8,210.68 L265.8,210.67 L266.8,210.67 L267.8,210.67 L268.8,210.67 L269.8,210.66 L270.8,210.66 L271.8,210.66 L272.8,210.65 L273.8,210.65 L274.8,210.64 L275.8,210.63 L276.8,210.62 L277.8,210.61 L278.8,210.60 L279.8,210.58 L280.8,210.56 L281.8,210.54 L282.8,210.50 L283.8,210.46 L284.8,210.39 L285.8,210.29 L286.8,210.14 L287.8,209.90 L287.9,209.87 L288.0,209.83 L288.1,209.79 L288.2,209.75 L288.3,209.71 L288.4,209.67 L288.5,209.62 L288.6,209.57 L288.7,209.52 L288.8,209.46 L288.9,209.40 L289.0,209.33 L289.1,209.26 L289.2,209.18 L289.3,209.10 L289.4,209.01 L289.5,208.91 L289.6,208.81 L289.7,208.69 L289.8,208.57 L289.9,208.43 L290.0,208.28 L290.1,208.11 L290.2,207.92 L290.3,207.72 L290.4,207.48 L290.5,207.22 L290.6,206.92 L290.7,206.57 L290.8,206.17 L290.9,205.70 L291.0,205.14 L291.1,204.46 L291.2,203.63 L291.3,202.60 L291.4,201.30 L291.5,199.61 L291.6,197.42 L291.7,194.55 L291.8,190.82 L291.9,186.19 L292.0,181.07 L292.1,176.69 L292.2,174.90 L292.3,176.69 L292.4,181.07 L292.5,186.19 L292.6,190.82 L292.7,194.54 L292.8,197.42 L292.9,199.61 L293.0,201.30 L293.1,202.60 L293.2,203.63 L293.3,204.46 L293.4,205.14 L293.5,205.70 L293.6,206.17 L293.7,206.57 L293.8,206.92 L293.9,207.22 L294.0,207.48 L294.1,207.71 L294.2,207.92 L294.3,208.11 L294.4,208.28 L294.5,208.43 L294.6,208.57 L294.7,208.69 L294.8,208.81 L294.9,208.91 L295.0,209.01 L295.1,209.10 L295.2,209.18 L295.3,209.26 L295.4,209.33 L295.5,209.40 L295.6,209.46 L295.7,209.52 L295.8,209.57 L295.9,209.62 L296.0,209.67 L296.1,209.71 L296.2,209.75 L296.3,209.79 L296.4,209.83 L296.5,209.86 L296.6,209.90 L296.7,209.93 L296.8,209.96 L296.9,209.98 L297.0,210.01 L297.1,210.04 L297.2,210.06 L297.3,210.08 L298.3,210.25 L299.3,210.36 L300.3,210.44 L301.3,210.49 L302.3,210.53 L303.3,210.56 L304.3,210.58 L305.3,210.59 L306.3,210.61 L307.3,210.62 L308.3,210.63 L309.3,210.64 L310.3,210.64 L311.3,210.65 L312.3,210.65 L313.3,210.66 L314.3,210.66 L315.3,210.66 L316.3,210.66 L317.3,210.67 L318.3,210.67 L319.3,210.67 L320.3,210.67 L321.3,210.67 L322.3,210.67 L323.3,210.67 L324.3,210.67 L325.3,210.67 L326.3,210.67 L327.3,210.67 L328.3,210.67 L329.3,210.67 L330.3,210.67 L331.3,210.67 L332.3,210.66 L333.3,210.66 L334.3,210.65 L335.3,210.64 L336.3,210.62 L337.3,210.58 L337.4,210.58 L337.5,210.57 L337.6,210.57 L337.7,210.56 L337.8,210.56 L337.9,210.55 L338.0,210.55 L338.1,210.54 L338.2,210.53 L338.3,210.52 L338.4,210.51 L338.5,210.50 L338.6,210.49 L338.7,210.48 L338.8,210.47 L338.9,210.46 L339.0,210.44 L339.1,210.42 L339.2,210.41 L339.3,210.39 L339.4,210.36 L339.5,210.34 L339.6,210.31 L339.7,210.28 L339.8,210.25 L339.9,210.21 L340.0,210.16 L340.1,210.11 L340.2,210.06 L340.3,209.99 L340.4,209.92 L340.5,209.83 L340.6,209.73 L340.7,209.61 L340.8,209.47 L340.9,209.31 L341.0,209.11 L341.1,208.88 L341.2,208.61 L341.3,208.29 L341.4,207.92 L341.5,207.51 L341.6,207.07 L341.7,206.63 L341.8,206.25 L341.9,205.98 L342.0,205.89 L342.1,205.98 L342.2,206.25 L342.3,206.63 L342.4,207.07 L342.5,207.51 L342.6,207.92 L342.7,208.29 L342.8,208.61 L342.9,208.88 L343.0,209.11 L343.1,209.31 L343.2,209.47 L343.3,209.61 L343.4,209.73 L343.5,209.83 L343.6,209.92 L343.7,209.99 L343.8,210.06 L343.9,210.12 L344.0,210.16 L344.1,210.21 L344.2,210.25 L344.3,210.28 L344.4,210.31 L344.5,210.34 L344.6,210.36 L344.7,210.39 L344.8,210.41 L344.9,210.42 L345.0,210.44 L345.1,210.46 L345.2,210.47 L345.3,210.48 L345.4,210.49 L345.5,210.50 L345.6,210.51 L345.7,210.52 L345.8,210.53 L345.9,210.54 L346.0,210.55 L346.1,210.55 L346.2,210.56 L346.3,210.56 L346.4,210.57 L346.5,210.58 L346.6,210.58 L346.7,210.58 L346.8,210.59 L346.9,210.59 L347.0,210.60 L348.0,210.62 L349.0,210.64 L350.0,210.65 L351.0,210.66 L352.0,210.66 L353.0,210.67 L354.0,210.67 L355.0,210.67 L356.0,210.67 L357.0,210.67 L358.0,210.67 L359.0,210.67 L360.0,210.66 L361.0,210.66 L362.0,210.65 L363.0,210.64 L363.1,210.63 L363.2,210.63 L363.3,210.63 L363.4,210.63 L363.5,210.62 L363.6,210.62 L363.7,210.62 L363.8,210.62 L363.9,210.61 L364.0,210.61 L364.1,210.60 L364.2,210.60 L364.3,210.59 L364.4,210.59 L364.5,210.58 L364.6,210.58 L364.7,210.57 L364.8,210.56 L364.9,210.56 L365.0,210.55 L365.1,210.54 L365.2,210.52 L365.3,210.51 L365.4,210.50 L365.5,210.48 L365.6,210.46 L365.7,210.44 L365.8,210.42 L365.9,210.39 L366.0,210.35 L366.1,210.31 L366.2,210.27 L366.3,210.21 L366.4,210.14 L366.5,210.05 L366.6,209.94 L366.7,209.79 L366.8,209.60 L366.9,209.33 L367.0,208.96 L367.1,208.42 L367.2,207.60 L367.3,206.28 L367.4,204.07 L367.5,200.35 L367.6,195.06 L367.7,191.84 L367.8,195.05 L367.9,200.34 L368.0,204.05 L368.1,206.26 L368.2,207.57 L368.3,208.39 L368.4,208.92 L368.5,209.28 L368.6,209.54 L368.7,209.72 L368.8,209.86 L368.9,209.96 L369.0,210.03 L369.1,210.09 L369.2,210.13 L369.3,210.16 L369.4,210.18 L369.5,210.18 L369.6,210.17 L369.7,210.15 L369.8,210.12 L369.9,210.07 L370.0,209.99 L370.1,209.87 L370.2,209.71 L370.3,209.45 L370.4,209.06 L370.5,208.43 L370.6,207.35 L370.7,205.54 L370.8,202.96 L370.9,201.39 L371.0,202.97 L371.1,205.56 L371.2,207.38 L371.3,208.47 L371.4,209.12 L371.5,209.52 L371.6,209.79 L371.7,209.97 L371.8,210.10 L371.9,210.20 L372.0,210.27 L372.1,210.33 L372.2,210.37 L372.3,210.41 L372.4,210.44 L372.5,210.46 L372.6,210.48 L372.7,210.50 L372.8,210.51 L372.9,210.53 L373.0,210.54 L373.1,210.55 L373.2,210.56 L373.3,210.56 L373.4,210.57 L373.5,210.57 L373.6,210.58 L373.7,210.58 L373.8,210.59 L373.9,210.59 L374.0,210.60 L374.1,210.60 L374.2,210.60 L374.3,210.60 L374.4,210.61 L374.5,210.61 L374.6,210.61 L374.7,210.61 L374.8,210.61 L374.9,210.61 L375.0,210.61 L375.1,210.62 L375.2,210.62 L375.3,210.62 L375.4,210.62 L375.5,210.62 L375.6,210.62 L375.7,210.62 L375.8,210.62 L375.9,210.62 L376.9,210.61 L377.9,210.60 L378.9,210.56 L379.0,210.56 L379.1,210.55 L379.2,210.54 L379.3,210.54 L379.4,210.53 L379.5,210.52 L379.6,210.52 L379.7,210.51 L379.8,210.50 L379.9,210.49 L380.0,210.48 L380.1,210.47 L380.2,210.45 L380.3,210.44 L380.4,210.42 L380.5,210.41 L380.6,210.39 L380.7,210.37 L380.8,210.34 L380.9,210.32 L381.0,210.29 L381.1,210.25 L381.2,210.22 L381.3,210.18 L381.4,210.13 L381.5,210.07 L381.6,210.01 L381.7,209.94 L381.8,209.86 L381.9,209.76 L382.0,209.64 L382.1,209.51 L382.2,209.35 L382.3,209.17 L382.4,208.94 L382.5,208.68 L382.6,208.38 L382.7,208.03 L382.8,207.63 L382.9,207.21 L383.0,206.79 L383.1,206.42 L383.2,206.17 L383.3,206.08 L383.4,206.17 L383.5,206.42 L383.6,206.79 L383.7,207.21 L383.8,207.63 L383.9,208.03 L384.0,208.38 L384.1,208.68 L384.2,208.94 L384.3,209.16 L384.4,209.35 L384.5,209.51 L384.6,209.64 L384.7,209.76 L384.8,209.85 L384.9,209.94 L385.0,210.01 L385.1,210.07 L385.2,210.13 L385.3,210.17 L385.4,210.21 L385.5,210.25 L385.6,210.28 L385.7,210.31 L385.8,210.34 L385.9,210.36 L386.0,210.38 L386.1,210.40 L386.2,210.42 L386.3,210.43 L386.4,210.45 L386.5,210.46 L386.6,210.47 L386.7,210.48 L386.8,210.49 L386.9,210.50 L387.0,210.51 L387.1,210.52 L387.2,210.53 L387.3,210.53 L387.4,210.54 L387.5,210.54 L387.6,210.55 L387.7,210.55 L387.8,210.56 L387.9,210.56 L388.0,210.57 L388.1,210.57 L388.2,210.57 L388.3,210.58 L389.3,210.59 L390.3,210.60 L391.3,210.59 L392.3,210.57 L392.4,210.57 L392.5,210.56 L392.6,210.56 L392.7,210.56 L392.8,210.55 L392.9,210.55 L393.0,210.54 L393.1,210.54 L393.2,210.53 L393.3,210.52 L393.4,210.52 L393.5,210.51 L393.6,210.50 L393.7,210.49 L393.8,210.48 L393.9,210.47 L394.0,210.46 L394.1,210.44 L394.2,210.43 L394.3,210.42 L394.4,210.40 L394.5,210.38 L394.6,210.36 L394.7,210.33 L394.8,210.31 L394.9,210.28 L395.0,210.25 L395.1,210.21 L395.2,210.17 L395.3,210.12 L395.4,210.07 L395.5,210.01 L395.6,209.94 L395.7,209.86 L395.8,209.77 L395.9,209.67 L396.0,209.54 L396.1,209.40 L396.2,209.24 L396.3,209.05 L396.4,208.83 L396.5,208.59 L396.6,208.32 L396.7,208.02 L396.8,207.72 L396.9,207.44 L397.0,207.20 L397.1,207.04 L397.2,206.98 L397.3,207.04 L397.4,207.20 L397.5,207.44 L397.6,207.72 L397.7,208.02 L397.8,208.32 L397.9,208.59 L398.0,208.84 L398.1,209.05 L398.2,209.24 L398.3,209.41 L398.4,209.55 L398.5,209.67 L398.6,209.78 L398.7,209.87 L398.8,209.95 L398.9,210.02 L399.0,210.08 L399.1,210.13 L399.2,210.18 L399.3,210.22 L399.4,210.26 L399.5,210.29 L399.6,210.32 L399.7,210.34 L399.8,210.37 L399.9,210.39 L400.0,210.41 L400.1,210.43 L400.2,210.44 L400.3,210.46 L400.4,210.47 L400.5,210.48 L400.6,210.49 L400.7,210.51 L400.8,210.51 L400.9,210.52 L401.0,210.53 L401.1,210.54 L401.2,210.55 L401.3,210.55 L401.4,210.56 L401.5,210.57 L401.6,210.57 L401.7,210.58 L401.8,210.58 L401.9,210.59 L402.0,210.59 L402.1,210.59 L402.2,210.60 L403.2,210.63 L404.2,210.64 L405.2,210.66 L406.2,210.66 L407.2,210.67 L408.2,210.67 L409.2,210.68 L410.2,210.68 L411.2,210.68 L412.2,210.68 L413.2,210.69 L414.2,210.69 L415.2,210.69 L416.2,210.69 L417.2,210.69 L418.2,210.69 L419.2,210.69 L420.2,210.69 L421.2,210.69 L422.2,210.69 L423.2,210.69 L424.2,210.69 L425.2,210.69 L426.2,210.69 L427.2,210.69 L428.2,210.69 L429.2,210.69 L430.2,210.70 L431.2,210.70 L432.2,210.70 L433.2,210.70 L434.2,210.70 L435.2,210.70 L436.2,210.70" fill="none" stroke="#1a1a1a" stroke-width="1.20" stroke-linejoin="round"/>
<path d="M369.8,85.4 L426,139 L398.3,139 L398.3,218.3 L342,218.3 L342,139 L313.6,139 Z" fill="#ffff00" opacity="0.27"/>
<text x="254.90" y="125.00" font-family='"Liberation Sans", sans-serif' font-size="8.25" fill="#111" text-anchor="start" font-weight="normal" stroke="#111" stroke-width="0.22" >60 °C</text>
<text x="256.70" y="166.30" font-family='"Liberation Sans", sans-serif' font-size="8.25" fill="#111" text-anchor="start" font-weight="normal" stroke="#111" stroke-width="0.22" >50 °C</text>
<text x="257.10" y="208.90" font-family='"Liberation Sans", sans-serif' font-size="8.25" fill="#111" text-anchor="start" font-weight="normal" stroke="#111" stroke-width="0.22" >40 °C</text>
<line x1="137.6" y1="222.2" x2="436.7" y2="222.2" stroke="#2a2a2a" stroke-width="1.3"/>
<path d="M138.30,222.2 V224.2 M147.80,222.2 V224.2 M157.30,222.2 V224.2 M166.80,222.2 V224.2 M176.30,222.2 V224.2 M185.80,222.2 V224.2 M195.30,222.2 V224.2 M204.80,222.2 V224.2 M214.30,222.2 V224.2 M223.80,222.2 V224.2 M233.30,222.2 V224.2 M242.80,222.2 V224.2 M252.30,222.2 V224.2 M261.80,222.2 V224.2 M271.30,222.2 V224.2 M280.80,222.2 V224.2 M290.30,222.2 V224.2 M299.80,222.2 V224.2 M309.30,222.2 V224.2 M318.80,222.2 V224.2 M328.30,222.2 V224.2 M337.80,222.2 V224.2 M347.30,222.2 V224.2 M356.80,222.2 V224.2 M366.30,222.2 V224.2 M375.80,222.2 V224.2 M385.30,222.2 V224.2 M394.80,222.2 V224.2 M404.30,222.2 V224.2 M413.80,222.2 V224.2 M423.30,222.2 V224.2 M432.80,222.2 V224.2" stroke="#333" stroke-width="0.9"/>
<text x="147.80" y="237.00" font-family='"Liberation Sans", sans-serif' font-size="11.00" fill="#111" text-anchor="middle" font-weight="normal" stroke="#111" stroke-width="0.12" >8.5</text>
<text x="185.80" y="237.00" font-family='"Liberation Sans", sans-serif' font-size="11.00" fill="#111" text-anchor="middle" font-weight="normal" stroke="#111" stroke-width="0.12" >7.5</text>
<text x="223.80" y="237.00" font-family='"Liberation Sans", sans-serif' font-size="11.00" fill="#111" text-anchor="middle" font-weight="normal" stroke="#111" stroke-width="0.12" >6.5</text>
<text x="261.80" y="237.00" font-family='"Liberation Sans", sans-serif' font-size="11.00" fill="#111" text-anchor="middle" font-weight="normal" stroke="#111" stroke-width="0.12" >5.5</text>
<text x="299.80" y="237.00" font-family='"Liberation Sans", sans-serif' font-size="11.00" fill="#111" text-anchor="middle" font-weight="normal" stroke="#111" stroke-width="0.12" >4.5</text>
<text x="337.80" y="237.00" font-family='"Liberation Sans", sans-serif' font-size="11.00" fill="#111" text-anchor="middle" font-weight="normal" stroke="#111" stroke-width="0.12" >3.5</text>
<text x="375.80" y="237.00" font-family='"Liberation Sans", sans-serif' font-size="11.00" fill="#111" text-anchor="middle" font-weight="normal" stroke="#111" stroke-width="0.12" >2.5</text>
<text x="413.80" y="237.00" font-family='"Liberation Sans", sans-serif' font-size="11.00" fill="#111" text-anchor="middle" font-weight="normal" stroke="#111" stroke-width="0.12" >1.5</text>
<text x="263.6" y="253.4" font-family='"Liberation Sans", sans-serif' font-size="11.8" fill="#111" stroke="#111" stroke-width="0.08"><tspan font-style="italic" font-family='"Liberation Serif", serif'>δ</tspan> (ppm)</text>
<path d="M137.4,121.7 L133.5,121.7 Q130.2,121.7 130.2,125 L130.2,166.5 Q130.2,169.4 127,169.4 L122.5,169.4 M127,169.4 Q130.2,169.4 130.2,172.3 L130.2,214.8 Q130.2,218 133.5,218 L137.4,218" fill="none" stroke="#1010f0" stroke-width="1.6"/>
<path d="M340.30,45.60 V42.40 H405.60 V45.60 M372.95,42.40 V39.20" fill="none" stroke="#2020f0" stroke-width="1.1"/>
<path d="M337.10,87.60 V84.30 H402.40 V87.60 M369.75,84.30 V81.00" fill="none" stroke="#2020f0" stroke-width="1.1"/>
<path d="M158.40,121.50 V118.30 H202.80 V121.50 M180.60,118.30 V114.50" fill="none" stroke="#2020f0" stroke-width="1.1"/>
<text x="333.90" y="19.70" font-family='"Liberation Sans", sans-serif' font-size="8.25" fill="#1818ff" text-anchor="start" font-weight="normal" stroke="#1818ff" stroke-width="0.22" >No loss or dissolution</text>
<text x="333.30" y="33.80" font-family='"Liberation Sans", sans-serif' font-size="8.25" fill="#1818ff" text-anchor="start" font-weight="normal" stroke="#1818ff" stroke-width="0.22" >of the mobile axle</text>
<text x="314.60" y="62.10" font-family='"Liberation Sans", sans-serif' font-size="8.25" fill="#1818ff" text-anchor="start" font-weight="normal" stroke="#1818ff" stroke-width="0.22" >Thermal input boosting proton</text>
<text x="314.60" y="75.80" font-family='"Liberation Sans", sans-serif' font-size="8.25" fill="#1818ff" text-anchor="start" font-weight="normal" stroke="#1818ff" stroke-width="0.22" >signals from the mobile axle</text>
<text x="149.80" y="107.80" font-family='"Liberation Sans", sans-serif' font-size="8.25" fill="#1818ff" text-anchor="start" font-weight="normal" stroke="#1818ff" stroke-width="0.22" >Aromatic protons</text>
<g transform="translate(104.50,42.80) rotate(16.20)">
<path d="M-3.50,-5.40 V14.70 Q-3.50,16.30 -1.90,16.30 H1.90 Q3.50,16.30 3.50,14.70 V-5.40 Z" fill="#f7ef94"/>
<path d="M-3.50,-16.30 V14.70 Q-3.50,16.30 -1.90,16.30 H1.90 Q3.50,16.30 3.50,14.70 V-16.30" fill="none" stroke="#4e5664" stroke-width="0.75"/>
</g>
<rect x="101.3" y="19.8" width="9.7" height="2.9" fill="#1f4f7f" transform="rotate(-8 106 21)"/>
<path d="M109.2,32.2 Q109.4,24.8 113.2,25 Q116.8,25.3 116.4,31.5" fill="none" stroke="#2aa8e8" stroke-width="1.3"/>
<rect x="116.6" y="34.5" width="5" height="4.3" fill="#c04e18" transform="rotate(-15 119 36.6)"/>
<g transform="translate(106.40,170.30) rotate(17.70)">
<path d="M-4.20,-5.60 V17.10 Q-4.20,18.70 -2.60,18.70 H2.60 Q4.20,18.70 4.20,17.10 V-5.60 Z" fill="#f7ef94"/>
<path d="M-4.20,-18.70 V17.10 Q-4.20,18.70 -2.60,18.70 H2.60 Q4.20,18.70 4.20,17.10 V-18.70" fill="none" stroke="#4e5664" stroke-width="0.75"/>
<rect x="-4.80" y="-20.30" width="9.60" height="3.4" fill="#1f4f7f"/>
<rect x="-2.2" y="9.50" width="4.4" height="4.4" fill="#d08818" transform="rotate(45 0 11.70)"/>
</g>
<path d="M246.50,58.00 L246.64,58.25 L246.76,58.50 L246.86,58.75 L246.93,59.00 L246.95,59.25 L246.93,59.50 L246.86,59.75 L246.76,60.00 L246.64,60.25 L246.50,60.50 L246.36,60.75 L246.24,61.00 L246.14,61.25 L246.07,61.50 L246.05,61.75 L246.07,62.00 L246.14,62.25 L246.24,62.50 L246.36,62.75 L246.50,63.00 L246.64,63.25 L246.76,63.50 L246.86,63.75 L246.93,64.00 L246.95,64.25 L246.93,64.50 L246.86,64.75 L246.76,65.00 L246.64,65.25 L246.50,65.50 L246.36,65.75 L246.24,66.00 L246.14,66.25 L246.07,66.50 L246.05,66.75 L246.07,67.00 L246.14,67.25 L246.24,67.50 L246.36,67.75 L246.50,68.00 L246.64,68.25 L246.76,68.50 L246.86,68.75 L246.93,69.00 L246.95,69.25 L246.93,69.50 L246.86,69.75 L246.76,70.00 M246.50,94.50 L246.64,94.75 L246.76,95.00 L246.86,95.25 L246.93,95.50 L246.95,95.75 L246.93,96.00 L246.86,96.25 L246.76,96.50 L246.64,96.75 L246.50,97.00 L246.36,97.25 L246.24,97.50 L246.14,97.75 L246.07,98.00 L246.05,98.25 L246.07,98.50 L246.14,98.75 L246.24,99.00 L246.36,99.25 L246.50,99.50 L246.64,99.75 L246.76,100.00 L246.86,100.25 L246.93,100.50 L246.95,100.75 L246.93,101.00 L246.86,101.25 L246.76,101.50 L246.64,101.75 L246.50,102.00 L246.36,102.25 L246.24,102.50 L246.14,102.75 L246.07,103.00 L246.05,103.25 L246.07,103.50" fill="none" stroke="#102424" stroke-width="2.0"/>
<path d="M224.5,81.5 C228,84.5 232,84.5 234.5,81 C237,78 240,79.5 243,80.5 L252,80.8 C256,81.5 258,83.5 260.5,82.5 C263,81.2 264,79.5 267,80 C270,80.5 271,81.5 273.5,81.8" fill="none" stroke="#6a0e3a" stroke-width="2.1"/>
<path d="M241.10,82.20 A6.10,13.60 0 1 0 253.30,82.20 A6.10,13.60 0 1 0 241.10,82.20 Z M245.40,82.00 A2.80,9.00 0 1 0 251.00,82.00 A2.80,9.00 0 1 0 245.40,82.00 Z" fill="url(#ringv)" fill-rule="evenodd"/>
<path d="M242.10,82.20 A5.10,12.60 0 1 0 252.30,82.20 A5.10,12.60 0 1 0 242.10,82.20 Z" fill="none" stroke="#ff9aa8" stroke-width="0.6" opacity="0.5"/>
<path d="M241.30,82.20 A5.90,13.40 0 1 0 253.10,82.20 A5.90,13.40 0 1 0 241.30,82.20 Z" fill="none" stroke="#8a0c30" stroke-width="0.5" opacity="0.6"/>
<path d="M245.40,82.00 A2.80,9.00 0 1 0 251.00,82.00 A2.80,9.00 0 1 0 245.40,82.00 Z M244.00,82.00 A3.10,9.60 0 1 0 250.20,82.00 A3.10,9.60 0 1 0 244.00,82.00 Z" fill="#5a1050" fill-rule="evenodd" opacity="0.9"/>
<path d="M246.0,81.6 L248.6,79.4 L251.0,81.6 L248.6,83.8 Z" fill="#1420f0"/>
<circle cx="220.50" cy="78.90" r="4.80" fill="url(#gold)"/>
<circle cx="216.20" cy="73.10" r="2.30" fill="url(#mag)"/>
<circle cx="277.60" cy="82.10" r="4.80" fill="url(#gold)"/>
<circle cx="280.80" cy="88.20" r="2.30" fill="url(#mag)"/>
<path d="M249.40,76.00 L261.60,76.00" stroke="#2a78c8" stroke-width="1.1" stroke-dasharray="2.2,1.2"/>
<path d="M265.20,76.00 L261.60,78.10 L261.60,73.90 Z" fill="#2a78c8"/>
<path d="M244.50,88.50 L230.20,88.50" stroke="#2a78c8" stroke-width="1.1" stroke-dasharray="2.2,1.2"/>
<path d="M226.60,88.50 L230.20,86.40 L230.20,90.60 Z" fill="#2a78c8"/>
<text x="451.20" y="12.60" font-family='"Liberation Sans", sans-serif' font-size="17.00" fill="#000" text-anchor="start" font-weight="bold" stroke="#000" stroke-width="0.00" >c</text>
<path d="M506.1,31.5 V222.3 H763.7" fill="none" stroke="#7a7a7a" stroke-width="1.4"/>
<path d="M502.10,221.90 H506.1 M504.10,206.10 H506.1 M502.10,190.30 H506.1 M504.10,174.50 H506.1 M502.10,158.70 H506.1 M504.10,142.90 H506.1 M502.10,127.10 H506.1 M504.10,111.30 H506.1 M502.10,95.50 H506.1 M504.10,79.70 H506.1 M502.10,63.90 H506.1 M504.10,48.10 H506.1 M502.10,32.30 H506.1 M505.93,222.3 V224.30 M522.00,222.3 V226.30 M538.07,222.3 V224.30 M554.14,222.3 V226.30 M570.21,222.3 V224.30 M586.29,222.3 V226.30 M602.36,222.3 V224.30 M618.43,222.3 V226.30 M634.50,222.3 V224.30 M650.57,222.3 V226.30 M666.64,222.3 V224.30 M682.72,222.3 V226.30 M698.79,222.3 V224.30 M714.86,222.3 V226.30 M730.93,222.3 V224.30 M747.00,222.3 V226.30 M763.07,222.3 V224.30" stroke="#7a7a7a" stroke-width="1.2"/>
<text x="497.80" y="225.30" font-family='"Liberation Sans", sans-serif' font-size="11.60" fill="#111" text-anchor="end" font-weight="normal" stroke="#111" stroke-width="0.12" >0</text>
<text x="497.80" y="193.70" font-family='"Liberation Sans", sans-serif' font-size="11.60" fill="#111" text-anchor="end" font-weight="normal" stroke="#111" stroke-width="0.12" >50</text>
<text x="497.80" y="162.10" font-family='"Liberation Sans", sans-serif' font-size="11.60" fill="#111" text-anchor="end" font-weight="normal" stroke="#111" stroke-width="0.12" >100</text>
<text x="497.80" y="130.50" font-family='"Liberation Sans", sans-serif' font-size="11.60" fill="#111" text-anchor="end" font-weight="normal" stroke="#111" stroke-width="0.12" >150</text>
<text x="497.80" y="98.90" font-family='"Liberation Sans", sans-serif' font-size="11.60" fill="#111" text-anchor="end" font-weight="normal" stroke="#111" stroke-width="0.12" >200</text>
<text x="497.80" y="67.30" font-family='"Liberation Sans", sans-serif' font-size="11.60" fill="#111" text-anchor="end" font-weight="normal" stroke="#111" stroke-width="0.12" >250</text>
<text x="497.80" y="35.70" font-family='"Liberation Sans", sans-serif' font-size="11.60" fill="#111" text-anchor="end" font-weight="normal" stroke="#111" stroke-width="0.12" >300</text>
<text x="522.00" y="239.00" font-family='"Liberation Sans", sans-serif' font-size="11.60" fill="#111" text-anchor="middle" font-weight="normal" stroke="#111" stroke-width="0.12" >20</text>
<text x="554.14" y="239.00" font-family='"Liberation Sans", sans-serif' font-size="11.60" fill="#111" text-anchor="middle" font-weight="normal" stroke="#111" stroke-width="0.12" >30</text>
<text x="586.29" y="239.00" font-family='"Liberation Sans", sans-serif' font-size="11.60" fill="#111" text-anchor="middle" font-weight="normal" stroke="#111" stroke-width="0.12" >40</text>
<text x="618.43" y="239.00" font-family='"Liberation Sans", sans-serif' font-size="11.60" fill="#111" text-anchor="middle" font-weight="normal" stroke="#111" stroke-width="0.12" >50</text>
<text x="650.57" y="239.00" font-family='"Liberation Sans", sans-serif' font-size="11.60" fill="#111" text-anchor="middle" font-weight="normal" stroke="#111" stroke-width="0.12" >60</text>
<text x="682.72" y="239.00" font-family='"Liberation Sans", sans-serif' font-size="11.60" fill="#111" text-anchor="middle" font-weight="normal" stroke="#111" stroke-width="0.12" >70</text>
<text x="714.86" y="239.00" font-family='"Liberation Sans", sans-serif' font-size="11.60" fill="#111" text-anchor="middle" font-weight="normal" stroke="#111" stroke-width="0.12" >80</text>
<text x="747.00" y="239.00" font-family='"Liberation Sans", sans-serif' font-size="11.60" fill="#111" text-anchor="middle" font-weight="normal" stroke="#111" stroke-width="0.12" >90</text>
<text x="635.30" y="254.00" font-family='"Liberation Sans", sans-serif' font-size="11.60" fill="#111" text-anchor="middle" font-weight="normal" stroke="#111" stroke-width="0.12" >Temperature (°C)</text>
<text transform="translate(466.4,203.4) rotate(-90)" font-family='"Liberation Sans", sans-serif' font-size="11.8" fill="#111">Proton conductivity (mS cm<tspan dy="-4" font-size="7.5">−1</tspan><tspan dy="4">)</tspan></text>
<line x1="513.2" y1="132.2" x2="752.7" y2="132.2" stroke="#e07828" stroke-width="2" stroke-dasharray="12,4.67"/>
<path d="M537.80,199.70 L538.30,199.63 L538.80,199.55 L539.30,199.48 L539.80,199.40 L540.30,199.33 L540.80,199.25 L541.30,199.18 L541.80,199.10 L542.30,199.03 L542.80,198.95 L543.30,198.88 L543.80,198.81 L544.30,198.73 L544.80,198.66 L545.30,198.58 L545.80,198.51 L546.30,198.43 L546.80,198.36 L547.30,198.28 L547.80,198.21 L548.30,198.13 L548.80,198.06 L549.30,197.98 L549.80,197.91 L550.30,197.83 L550.80,197.76 L551.30,197.68 L551.80,197.61 L552.30,197.53 L552.80,197.46 L553.30,197.38 L553.80,197.31 L554.30,197.23 L554.80,197.16 L555.30,197.08 L555.80,197.01 L556.30,196.93 L556.80,196.86 L557.30,196.78 L557.80,196.71 L558.30,196.63 L558.80,196.56 L559.30,196.48 L559.80,196.40 L560.30,196.33 L560.80,196.25 L561.30,196.18 L561.80,196.10 L562.30,196.02 L562.80,195.95 L563.30,195.87 L563.80,195.80 L564.30,195.72 L564.80,195.64 L565.30,195.57 L565.80,195.49 L566.30,195.41 L566.80,195.34 L567.30,195.26 L567.80,195.18 L568.30,195.11 L568.80,195.03 L569.30,194.95 L569.80,194.88 L570.30,194.80 L570.80,194.72 L571.30,194.65 L571.80,194.57 L572.30,194.49 L572.80,194.41 L573.30,194.33 L573.80,194.26 L574.30,194.18 L574.80,194.10 L575.30,194.02 L575.80,193.94 L576.30,193.86 L576.80,193.78 L577.30,193.69 L577.80,193.61 L578.30,193.53 L578.80,193.45 L579.30,193.36 L579.80,193.28 L580.30,193.19 L580.80,193.10 L581.30,193.02 L581.80,192.93 L582.30,192.84 L582.80,192.75 L583.30,192.66 L583.80,192.56 L584.30,192.47 L584.80,192.37 L585.30,192.28 L585.80,192.18 L586.30,192.08 L586.80,191.98 L587.30,191.88 L587.80,191.78 L588.30,191.67 L588.80,191.57 L589.30,191.46 L589.80,191.35 L590.30,191.24 L590.80,191.13 L591.30,191.02 L591.80,190.90 L592.30,190.79 L592.80,190.67 L593.30,190.55 L593.80,190.43 L594.30,190.30 L594.80,190.18 L595.30,190.05 L595.80,189.92 L596.30,189.79 L596.80,189.65 L597.30,189.52 L597.80,189.38 L598.30,189.24 L598.80,189.10 L599.30,188.95 L599.80,188.80 L600.30,188.65 L600.80,188.50 L601.30,188.35 L601.80,188.19 L602.30,188.03 L602.80,187.87 L603.30,187.71 L603.80,187.54 L604.30,187.37 L604.80,187.20 L605.30,187.02 L605.80,186.84 L606.30,186.66 L606.80,186.47 L607.30,186.28 L607.80,186.08 L608.30,185.88 L608.80,185.68 L609.30,185.47 L609.80,185.26 L610.30,185.04 L610.80,184.82 L611.30,184.60 L611.80,184.36 L612.30,184.13 L612.80,183.88 L613.30,183.64 L613.80,183.38 L614.30,183.12 L614.80,182.86 L615.30,182.58 L615.80,182.30 L616.30,182.02 L616.80,181.73 L617.30,181.43 L617.80,181.12 L618.30,180.81 L618.80,180.49 L619.30,180.16 L619.80,179.83 L620.30,179.49 L620.80,179.14 L621.30,178.78 L621.80,178.41 L622.30,178.04 L622.80,177.65 L623.30,177.26 L623.80,176.86 L624.30,176.45 L624.80,176.03 L625.30,175.61 L625.80,175.17 L626.30,174.72 L626.80,174.27 L627.30,173.80 L627.80,173.33 L628.30,172.84 L628.80,172.34 L629.30,171.84 L629.80,171.32 L630.30,170.79 L630.80,170.26 L631.30,169.71 L631.80,169.15 L632.30,168.58 L632.80,167.99 L633.30,167.40 L633.80,166.79 L634.30,166.18 L634.80,165.55 L635.30,164.90 L635.80,164.25 L636.30,163.59 L636.80,162.91 L637.30,162.23 L637.80,161.54 L638.30,160.83 L638.80,160.12 L639.30,159.40 L639.80,158.66 L640.30,157.93 L640.80,157.18 L641.30,156.42 L641.80,155.66 L642.30,154.89 L642.80,154.11 L643.30,153.33 L643.80,152.54 L644.30,151.74 L644.80,150.94 L645.30,150.13 L645.80,149.32 L646.30,148.51 L646.80,147.69 L647.30,146.86 L647.80,146.03 L648.30,145.20 L648.80,144.37 L649.30,143.53 L649.80,142.69 L650.30,141.85 L650.80,141.00 L651.30,140.16 L651.80,139.31 L652.30,138.46 L652.80,137.61 L653.30,136.76 L653.80,135.92 L654.30,135.07 L654.80,134.22 L655.30,133.37 L655.80,132.53 L656.30,131.69 L656.80,130.84 L657.30,130.01 L657.80,129.17 L658.30,128.33 L658.80,127.50 L659.30,126.68 L659.80,125.85 L660.30,125.03 L660.80,124.22 L661.30,123.41 L661.80,122.61 L662.30,121.81 L662.80,121.01 L663.30,120.22 L663.80,119.44 L664.30,118.67 L664.80,117.90 L665.30,117.14 L665.80,116.39 L666.30,115.64 L666.80,114.91 L667.30,114.18 L667.80,113.46 L668.30,112.75 L668.80,112.04 L669.30,111.35 L669.80,110.66 L670.30,109.98 L670.80,109.31 L671.30,108.64 L671.80,107.98 L672.30,107.33 L672.80,106.69 L673.30,106.05 L673.80,105.43 L674.30,104.80 L674.80,104.19 L675.30,103.58 L675.80,102.98 L676.30,102.38 L676.80,101.79 L677.30,101.21 L677.80,100.63 L678.30,100.06 L678.80,99.50 L679.30,98.94 L679.80,98.39 L680.30,97.84 L680.80,97.30 L681.30,96.76 L681.80,96.23 L682.30,95.71 L682.80,95.19 L683.30,94.67 L683.80,94.16 L684.30,93.65 L684.80,93.15 L685.30,92.66 L685.80,92.17 L686.30,91.68 L686.80,91.20 L687.30,90.72 L687.80,90.24 L688.30,89.77 L688.80,89.30 L689.30,88.84 L689.80,88.38 L690.30,87.92 L690.80,87.47 L691.30,87.02 L691.80,86.58 L692.30,86.13 L692.80,85.69 L693.30,85.26 L693.80,84.82 L694.30,84.39 L694.80,83.96 L695.30,83.54 L695.80,83.11 L696.30,82.69 L696.80,82.27 L697.30,81.86 L697.80,81.44 L698.30,81.03 L698.80,80.62 L699.30,80.21 L699.80,79.80 L700.30,79.39 L700.80,78.99 L701.30,78.59 L701.80,78.18 L702.30,77.78 L702.80,77.39 L703.30,76.99 L703.80,76.59 L704.30,76.20 L704.80,75.81 L705.30,75.42 L705.80,75.03 L706.30,74.64 L706.80,74.25 L707.30,73.86 L707.80,73.48 L708.30,73.10 L708.80,72.71 L709.30,72.33 L709.80,71.95 L710.30,71.57 L710.80,71.19 L711.30,70.82 L711.80,70.44 L712.30,70.07 L712.80,69.69 L713.30,69.32 L713.80,68.95 L714.30,68.58 L714.80,68.21 L715.30,67.84 L715.80,67.47 L716.30,67.10 L716.80,66.74 L717.30,66.37 L717.80,66.00 L718.30,65.64 L718.80,65.28 L719.30,64.91 L719.80,64.55 L720.30,64.19 L720.80,63.83 L721.30,63.47 L721.80,63.10 L722.30,62.74 L722.80,62.38 L723.30,62.03 L723.80,61.67 L724.30,61.31 L724.80,60.95 L725.30,60.59 L725.80,60.24 L726.30,59.88 L726.80,59.52 L727.30,59.16 L727.80,58.81 L728.30,58.45 L728.80,58.10 L729.30,57.74 L729.80,57.38 L730.30,57.03 L730.80,56.67" fill="none" stroke="#ff2828" stroke-width="1.2"/>
<path d="M537.80,166.70 L570.30,158.00 L602.40,149.00 L634.20,140.00 L666.60,127.60 L698.70,113.70 L730.90,103.20" fill="none" stroke="#2238ff" stroke-width="1.2"/>
<rect x="534.30" y="196.20" width="7" height="7" fill="#ff1010"/>
<rect x="566.80" y="191.30" width="7" height="7" fill="#ff1010"/>
<rect x="598.90" y="184.50" width="7" height="7" fill="#ff1010"/>
<rect x="630.70" y="162.80" width="7" height="7" fill="#ff1010"/>
<path d="M666.60,110.20 V120.20 M663.60,110.20 H669.60 M663.60,120.20 H669.60" stroke="#ff3030" stroke-width="1"/>
<rect x="663.10" y="111.70" width="7" height="7" fill="#ff1010"/>
<path d="M698.70,73.70 V87.70 M695.70,73.70 H701.70 M695.70,87.70 H701.70" stroke="#ff3030" stroke-width="1"/>
<rect x="695.20" y="77.20" width="7" height="7" fill="#ff1010"/>
<path d="M730.90,48.40 V64.80 M727.90,48.40 H733.90 M727.90,64.80 H733.90" stroke="#ff3030" stroke-width="1"/>
<rect x="727.40" y="53.10" width="7" height="7" fill="#ff1010"/>
<circle cx="537.80" cy="166.70" r="3.9" fill="#0a0aff"/>
<circle cx="570.30" cy="158.00" r="3.9" fill="#0a0aff"/>
<circle cx="602.40" cy="149.00" r="3.9" fill="#0a0aff"/>
<path d="M634.20,138.50 V141.50 M631.20,138.50 H637.20 M631.20,141.50 H637.20" stroke="#1010ff" stroke-width="1"/>
<circle cx="634.20" cy="140.00" r="3.9" fill="#0a0aff"/>
<path d="M666.60,125.10 V130.10 M663.60,125.10 H669.60 M663.60,130.10 H669.60" stroke="#1010ff" stroke-width="1"/>
<circle cx="666.60" cy="127.60" r="3.9" fill="#0a0aff"/>
<path d="M698.70,108.90 V118.50 M695.70,108.90 H701.70 M695.70,118.50 H701.70" stroke="#1010ff" stroke-width="1"/>
<circle cx="698.70" cy="113.70" r="3.9" fill="#0a0aff"/>
<path d="M730.90,97.40 V109.00 M727.90,97.40 H733.90 M727.90,109.00 H733.90" stroke="#1010ff" stroke-width="1"/>
<circle cx="730.90" cy="103.20" r="3.9" fill="#0a0aff"/>
<text x="738.60" y="59.50" font-family='"Liberation Sans", sans-serif' font-size="8.60" fill="#111" text-anchor="start" font-weight="normal" stroke="#111" stroke-width="0.22" >Polyrotaxane</text>
<text x="738.60" y="106.40" font-family='"Liberation Sans", sans-serif' font-size="8.60" fill="#111" text-anchor="start" font-weight="normal" stroke="#111" stroke-width="0.22" >Nafion-117</text>
<text x="515.40" y="95.60" font-family='"Liberation Sans", sans-serif' font-size="8.25" fill="#1818ff" text-anchor="start" font-weight="normal" stroke="#1818ff" stroke-width="0.22" >Thermally triggered</text>
<text x="515.40" y="110.00" font-family='"Liberation Sans", sans-serif' font-size="8.25" fill="#1818ff" text-anchor="start" font-weight="normal" stroke="#1818ff" stroke-width="0.22" >motion of the axle</text>
<text x="715.20" y="195.00" font-family='"Liberation Sans", sans-serif' font-size="8.25" fill="#1818ff" text-anchor="start" font-weight="normal" stroke="#1818ff" stroke-width="0.22" >Low mobility</text>
<text x="715.00" y="209.60" font-family='"Liberation Sans", sans-serif' font-size="8.25" fill="#1818ff" text-anchor="start" font-weight="normal" stroke="#1818ff" stroke-width="0.22" >of the axle</text>
<path d="M654.0,79.7 H681" stroke="#6a28a8" stroke-width="2.1"/><path d="M680.2,76.2 L687.2,79.7 L680.2,83.2 Z" fill="#6a28a8"/>
<path d="M667,174 H643" stroke="#6a28a8" stroke-width="2.1"/><path d="M643.3,170.5 L636.3,174 L643.3,177.5 Z" fill="#6a28a8"/>
<path d="M592.00,79.20 L592.25,79.38 L592.50,79.55 L592.75,79.67 L593.00,79.74 L593.25,79.74 L593.50,79.69 L593.75,79.58 L594.00,79.42 L594.25,79.24 L594.50,79.05 L594.75,78.88 L595.00,78.75 L595.25,78.67 L595.50,78.65 L595.75,78.70 L596.00,78.80 L596.25,78.95 L596.50,79.13 L596.75,79.31 L597.00,79.49 L597.25,79.63 L597.50,79.72 L597.75,79.75 L598.00,79.72 L598.25,79.63 L598.50,79.49 L598.75,79.31 L599.00,79.13 L599.25,78.95 L599.50,78.80 L599.75,78.70 L600.00,78.65 L600.25,78.67 L600.50,78.75 L600.75,78.88 L601.00,79.05 L601.25,79.24 L601.50,79.42 L601.75,79.58 L602.00,79.69 L602.25,79.74 L602.50,79.74 L602.75,79.67 L603.00,79.55 L603.25,79.38 L603.50,79.20 L603.75,79.02 L604.00,78.85 L604.25,78.73 L604.50,78.66 L604.75,78.66 L605.00,78.71 L605.25,78.82 L605.50,78.98 L605.75,79.16 L606.00,79.35 L606.25,79.52 L606.50,79.65 L606.75,79.73 L607.00,79.75 L607.25,79.70 L607.50,79.60 L607.75,79.45 L608.00,79.27 L608.25,79.09 L608.50,78.91 L608.75,78.77 L609.00,78.68 L609.25,78.65 L609.50,78.68 L609.75,78.77 L610.00,78.91 L610.25,79.09 L610.50,79.27 L610.75,79.45 L611.00,79.60 L611.25,79.70 L611.50,79.75 L611.75,79.73 L612.00,79.65 M634.00,79.20 L634.25,79.38 L634.50,79.55 L634.75,79.67 L635.00,79.74 L635.25,79.74 L635.50,79.69 L635.75,79.58 L636.00,79.42 L636.25,79.24 L636.50,79.05 L636.75,78.88 L637.00,78.75 L637.25,78.67 L637.50,78.65 L637.75,78.70 L638.00,78.80 L638.25,78.95 L638.50,79.13 L638.75,79.31 L639.00,79.49 L639.25,79.63 L639.50,79.72 L639.75,79.75 L640.00,79.72 L640.25,79.63 L640.50,79.49 L640.75,79.31 L641.00,79.13 L641.25,78.95 L641.50,78.80 L641.75,78.70 L642.00,78.65 L642.25,78.67 L642.50,78.75 L642.75,78.88 L643.00,79.05 L643.25,79.24 L643.50,79.42 L643.75,79.58 L644.00,79.69 L644.25,79.74 L644.50,79.74 L644.75,79.67 L645.00,79.55 L645.25,79.38 L645.50,79.20 L645.75,79.02 L646.00,78.85 L646.25,78.73 L646.50,78.66 L646.75,78.66 L647.00,78.71 L647.25,78.82 L647.50,78.98 L647.75,79.16 L648.00,79.35 L648.25,79.52 L648.50,79.65 L648.75,79.73 L649.00,79.75 L649.25,79.70 L649.50,79.60 L649.75,79.45 L650.00,79.27 L650.25,79.09 L650.50,78.91 L650.75,78.77 L651.00,78.68 L651.25,78.65 L651.50,78.68 L651.75,78.77 L652.00,78.91 L652.25,79.09 L652.50,79.27" fill="none" stroke="#102424" stroke-width="1.9"/>
<path d="M623.0,53 C620.5,57 625.5,60 623.2,64 C621,67.5 625.5,70 623.4,74 M623,82 C620.5,86 625.5,89 623.2,93 C621.5,96 622.5,99 620.5,102" fill="none" stroke="#6a0e3a" stroke-width="2.1"/>
<path d="M609.30,79.20 A13.80,6.30 0 1 0 636.90,79.20 A13.80,6.30 0 1 0 609.30,79.20 Z M613.40,77.90 A9.20,2.50 0 1 0 631.80,77.90 A9.20,2.50 0 1 0 613.40,77.90 Z" fill="url(#ringh)" fill-rule="evenodd"/>
<path d="M610.30,79.20 A12.80,5.30 0 1 0 635.90,79.20 A12.80,5.30 0 1 0 610.30,79.20 Z" fill="none" stroke="#ff9aa8" stroke-width="0.6" opacity="0.5"/>
<path d="M609.50,79.20 A13.60,6.10 0 1 0 636.70,79.20 A13.60,6.10 0 1 0 609.50,79.20 Z" fill="none" stroke="#8a0c30" stroke-width="0.5" opacity="0.6"/>
<path d="M613.40,77.90 A9.20,2.50 0 1 0 631.80,77.90 A9.20,2.50 0 1 0 613.40,77.90 Z M612.60,78.90 A10.00,2.80 0 1 0 632.60,78.90 A10.00,2.80 0 1 0 612.60,78.90 Z" fill="#5a1050" fill-rule="evenodd" opacity="0.9"/>
<path d="M621.0,75.6 L624.8,75.6 L624.4,79.2 L622.9,80.8 L621.4,79.2 Z" fill="#1420f0"/>
<circle cx="623.70" cy="48.20" r="4.80" fill="url(#gold)"/>
<circle cx="629.60" cy="45.30" r="2.30" fill="url(#mag)"/>
<circle cx="619.00" cy="105.80" r="4.80" fill="url(#gold)"/>
<circle cx="614.10" cy="110.20" r="2.30" fill="url(#mag)"/>
<path d="M617.00,76.60 L617.00,64.40" stroke="#2a78c8" stroke-width="1.1" stroke-dasharray="2.2,1.2"/>
<path d="M617.00,60.80 L619.10,64.40 L614.90,64.40 Z" fill="#2a78c8"/>
<path d="M629.60,81.00 L629.60,96.80" stroke="#2a78c8" stroke-width="1.1" stroke-dasharray="2.2,1.2"/>
<path d="M629.60,100.40 L627.50,96.80 L631.70,96.80 Z" fill="#2a78c8"/>
<path d="M670.60,174.80 L670.85,174.98 L671.10,175.15 L671.35,175.27 L671.60,175.34 L671.85,175.34 L672.10,175.29 L672.35,175.18 L672.60,175.02 L672.85,174.84 L673.10,174.65 L673.35,174.48 L673.60,174.35 L673.85,174.27 L674.10,174.25 L674.35,174.30 L674.60,174.40 L674.85,174.55 L675.10,174.73 L675.35,174.91 L675.60,175.09 L675.85,175.23 L676.10,175.32 L676.35,175.35 L676.60,175.32 L676.85,175.23 L677.10,175.09 L677.35,174.91 L677.60,174.73 L677.85,174.55 L678.10,174.40 L678.35,174.30 L678.60,174.25 L678.85,174.27 L679.10,174.35 L679.35,174.48 L679.60,174.65 L679.85,174.84 L680.10,175.02 L680.35,175.18 L680.60,175.29 L680.85,175.34 L681.10,175.34 L681.35,175.27 L681.60,175.15 L681.85,174.98 L682.10,174.80 L682.35,174.62 L682.60,174.45 L682.85,174.33 L683.10,174.26 L683.35,174.26 L683.60,174.31 L683.85,174.42 L684.10,174.58 L684.35,174.76 L684.60,174.95 L684.85,175.12 L685.10,175.25 L685.35,175.33 L685.60,175.35 L685.85,175.30 L686.10,175.20 L686.35,175.05 L686.60,174.87 L686.85,174.69 L687.10,174.51 L687.35,174.37 L687.60,174.28 L687.85,174.25 L688.10,174.28 L688.35,174.37 L688.60,174.51 L688.85,174.69 L689.10,174.87 L689.35,175.05 L689.60,175.20 L689.85,175.30 L690.10,175.35 L690.35,175.33 L690.60,175.25 L690.85,175.12 L691.10,174.95 L691.35,174.76 L691.60,174.58 L691.85,174.42 M713.50,174.80 L713.75,174.98 L714.00,175.15 L714.25,175.27 L714.50,175.34 L714.75,175.34 L715.00,175.29 L715.25,175.18 L715.50,175.02 L715.75,174.84 L716.00,174.65 L716.25,174.48 L716.50,174.35 L716.75,174.27 L717.00,174.25 L717.25,174.30 L717.50,174.40 L717.75,174.55 L718.00,174.73 L718.25,174.91 L718.50,175.09 L718.75,175.23 L719.00,175.32 L719.25,175.35 L719.50,175.32 L719.75,175.23 L720.00,175.09 L720.25,174.91 L720.50,174.73 L720.75,174.55 L721.00,174.40 L721.25,174.30 L721.50,174.25 L721.75,174.27 L722.00,174.35 L722.25,174.48 L722.50,174.65 L722.75,174.84 L723.00,175.02 L723.25,175.18 L723.50,175.29 L723.75,175.34 L724.00,175.34 L724.25,175.27 L724.50,175.15 L724.75,174.98 L725.00,174.80 L725.25,174.62 L725.50,174.45 L725.75,174.33 L726.00,174.26 L726.25,174.26 L726.50,174.31 L726.75,174.42 L727.00,174.58 L727.25,174.76 L727.50,174.95 L727.75,175.12 L728.00,175.25 L728.25,175.33 L728.50,175.35 L728.75,175.30 L729.00,175.20 L729.25,175.05 L729.50,174.87 L729.75,174.69 L730.00,174.51 L730.25,174.37 L730.50,174.28 L730.75,174.25 L731.00,174.28 L731.25,174.37 L731.50,174.51 L731.75,174.69 L732.00,174.87 L732.25,175.05 L732.50,175.20 L732.75,175.30 L733.00,175.35 L733.25,175.33 L733.50,175.25 L733.75,175.12 L734.00,174.95 L734.25,174.76 L734.50,174.58 L734.75,174.42 L735.00,174.31 L735.25,174.26 L735.50,174.26 L735.75,174.33 L736.00,174.45 L736.25,174.62 L736.50,174.80" fill="none" stroke="#102424" stroke-width="1.9"/>
<path d="M702.8,147.5 C700.5,151.5 705.5,154.5 703.2,158.5 C701,162 705.5,165 702.6,170 M702.4,178.6 C700,182.5 705,186 702.6,190 C700.5,193.5 702,196 700.5,197.5" fill="none" stroke="#6a0e3a" stroke-width="2.1"/>
<path d="M689.10,174.30 A13.60,6.30 0 1 0 716.30,174.30 A13.60,6.30 0 1 0 689.10,174.30 Z M693.50,173.00 A9.50,2.40 0 1 0 712.50,173.00 A9.50,2.40 0 1 0 693.50,173.00 Z" fill="url(#ringh)" fill-rule="evenodd"/>
<path d="M690.10,174.30 A12.60,5.30 0 1 0 715.30,174.30 A12.60,5.30 0 1 0 690.10,174.30 Z" fill="none" stroke="#ff9aa8" stroke-width="0.6" opacity="0.5"/>
<path d="M689.30,174.30 A13.40,6.10 0 1 0 716.10,174.30 A13.40,6.10 0 1 0 689.30,174.30 Z" fill="none" stroke="#8a0c30" stroke-width="0.5" opacity="0.6"/>
<path d="M693.50,173.00 A9.50,2.40 0 1 0 712.50,173.00 A9.50,2.40 0 1 0 693.50,173.00 Z M692.70,174.00 A10.30,2.70 0 1 0 713.30,174.00 A10.30,2.70 0 1 0 692.70,174.00 Z" fill="#5a1050" fill-rule="evenodd" opacity="0.9"/>
<path d="M700.6,169.8 L704.2,169.8 L704.0,174.4 L702.4,176.2 L700.8,174.4 Z" fill="#1420f0"/>
<circle cx="703.00" cy="142.80" r="4.80" fill="url(#gold)"/>
<circle cx="709.50" cy="139.70" r="2.30" fill="url(#mag)"/>
<circle cx="699.20" cy="201.30" r="4.80" fill="url(#gold)"/>
<circle cx="694.00" cy="206.60" r="2.30" fill="url(#mag)"/>
</svg></body></html>
